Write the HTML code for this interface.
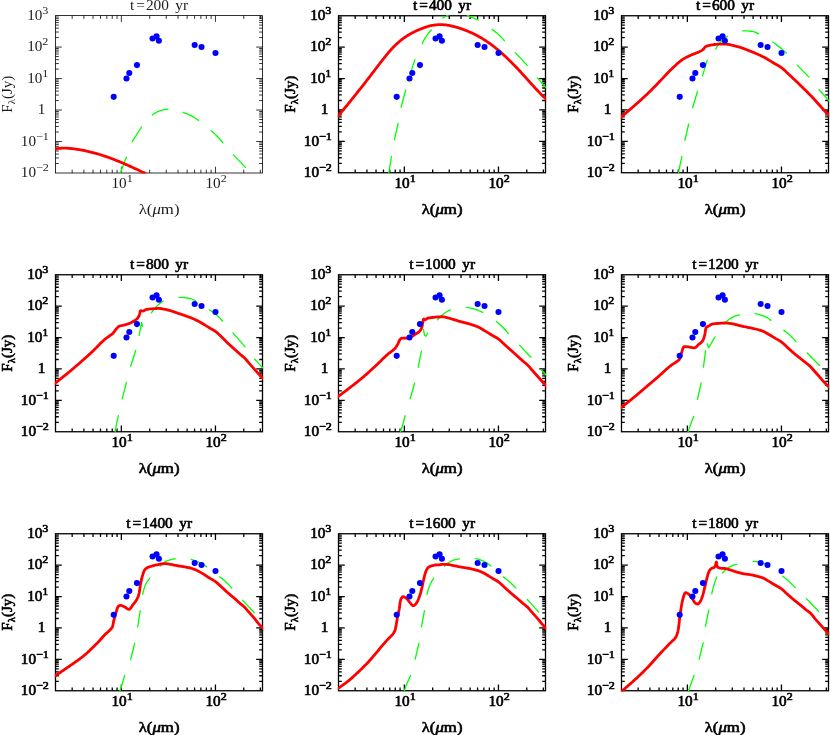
<!DOCTYPE html>
<html><head><meta charset="utf-8"><title>SED evolution</title>
<style>
html,body{margin:0;padding:0;background:#fff;}
body{width:830px;height:735px;overflow:hidden;font-family:"Liberation Sans",sans-serif;}
svg{display:block;will-change:transform;}
</style></head>
<body>
<svg width="830" height="735" viewBox="0 0 830 735">
<rect width="830" height="735" fill="#fff"/>
<g>
<rect x="55.5" y="15.6" width="207" height="157.4" fill="none" stroke="#000" stroke-width="0.8"/>
<path d="M72.17 15.6v3.3M72.17 173v-3.3M83.92 15.6v3.3M83.92 173v-3.3M93.04 15.6v3.3M93.04 173v-3.3M100.49 15.6v3.3M100.49 173v-3.3M106.79 15.6v3.3M106.79 173v-3.3M112.25 15.6v3.3M112.25 173v-3.3M117.06 15.6v3.3M117.06 173v-3.3M121.36 15.6v6.3M121.36 173v-6.3M149.69 15.6v3.3M149.69 173v-3.3M166.26 15.6v3.3M166.26 173v-3.3M178.01 15.6v3.3M178.01 173v-3.3M187.13 15.6v3.3M187.13 173v-3.3M194.58 15.6v3.3M194.58 173v-3.3M200.88 15.6v3.3M200.88 173v-3.3M206.34 15.6v3.3M206.34 173v-3.3M211.15 15.6v3.3M211.15 173v-3.3M215.45 15.6v6.3M215.45 173v-6.3M243.78 15.6v3.3M243.78 173v-3.3M260.35 15.6v3.3M260.35 173v-3.3M55.5 163.52h3.3M262.5 163.52h-3.3M55.5 157.98h3.3M262.5 157.98h-3.3M55.5 154.05h3.3M262.5 154.05h-3.3M55.5 151h3.3M262.5 151h-3.3M55.5 148.5h3.3M262.5 148.5h-3.3M55.5 146.4h3.3M262.5 146.4h-3.3M55.5 144.57h3.3M262.5 144.57h-3.3M55.5 142.96h3.3M262.5 142.96h-3.3M55.5 141.52h6.3M262.5 141.52h-6.3M55.5 132.04h3.3M262.5 132.04h-3.3M55.5 126.5h3.3M262.5 126.5h-3.3M55.5 122.57h3.3M262.5 122.57h-3.3M55.5 119.52h3.3M262.5 119.52h-3.3M55.5 117.02h3.3M262.5 117.02h-3.3M55.5 114.92h3.3M262.5 114.92h-3.3M55.5 113.09h3.3M262.5 113.09h-3.3M55.5 111.48h3.3M262.5 111.48h-3.3M55.5 110.04h6.3M262.5 110.04h-6.3M55.5 100.56h3.3M262.5 100.56h-3.3M55.5 95.02h3.3M262.5 95.02h-3.3M55.5 91.09h3.3M262.5 91.09h-3.3M55.5 88.04h3.3M262.5 88.04h-3.3M55.5 85.54h3.3M262.5 85.54h-3.3M55.5 83.44h3.3M262.5 83.44h-3.3M55.5 81.61h3.3M262.5 81.61h-3.3M55.5 80h3.3M262.5 80h-3.3M55.5 78.56h6.3M262.5 78.56h-6.3M55.5 69.08h3.3M262.5 69.08h-3.3M55.5 63.54h3.3M262.5 63.54h-3.3M55.5 59.61h3.3M262.5 59.61h-3.3M55.5 56.56h3.3M262.5 56.56h-3.3M55.5 54.06h3.3M262.5 54.06h-3.3M55.5 51.96h3.3M262.5 51.96h-3.3M55.5 50.13h3.3M262.5 50.13h-3.3M55.5 48.52h3.3M262.5 48.52h-3.3M55.5 47.08h6.3M262.5 47.08h-6.3M55.5 37.6h3.3M262.5 37.6h-3.3M55.5 32.06h3.3M262.5 32.06h-3.3M55.5 28.13h3.3M262.5 28.13h-3.3M55.5 25.08h3.3M262.5 25.08h-3.3M55.5 22.58h3.3M262.5 22.58h-3.3M55.5 20.48h3.3M262.5 20.48h-3.3M55.5 18.65h3.3M262.5 18.65h-3.3M55.5 17.04h3.3M262.5 17.04h-3.3" fill="none" stroke="#000" stroke-width="0.8"/>
<clipPath id="c0"><rect x="55.1" y="15.2" width="207.8" height="158.2"/></clipPath>
<g clip-path="url(#c0)" fill="none" stroke-linejoin="round">
<path d="M120.16 173.88L120.72 172.2L121.31 170.54L121.9 168.87L122.51 167.21L123.13 165.56L123.76 163.9L124.4 162.25L125.06 160.61L125.73 158.97L126.42 157.34M132.19 141.55L141.46 127.02M152.23 114.99L153.64 113.99L155.08 113.07L156.56 112.24L158.06 111.53L159.6 110.94L161.16 110.47L162.76 110.05L164.4 109.69L166.07 109.4L167.77 109.23M183.31 112.48L184.96 113.06L186.59 113.68L188.18 114.36L189.75 115.08L191.3 115.85L192.81 116.66L194.3 117.53L195.76 118.47L197.19 119.46L198.6 120.5M211.13 130.78L212.42 131.87L213.69 132.98L214.93 134.13L216.15 135.29L217.34 136.48L218.51 137.69L219.65 138.93L220.76 140.2L221.84 141.49L222.9 142.81M233.43 154.84L245.46 167.37" stroke="#00ff00" stroke-width="1.3" stroke-linecap="round"/>
<path d="M53.75 149.28L54.75 149.05L55.75 148.85L56.75 148.68L57.75 148.53L58.75 148.41L59.75 148.31L60.75 148.24L61.75 148.18L62.75 148.15L63.75 148.14L64.75 148.14L65.75 148.17L66.75 148.21L67.75 148.26L68.75 148.33L69.75 148.41L70.75 148.5L71.75 148.61L72.75 148.72L73.75 148.84L74.75 148.97L75.75 149.11L76.75 149.25L77.75 149.41L78.75 149.57L79.75 149.73L80.75 149.91L81.75 150.09L82.75 150.28L83.75 150.47L84.75 150.67L85.75 150.88L86.75 151.1L87.75 151.32L88.75 151.55L89.75 151.79L90.75 152.03L91.75 152.28L92.75 152.54L93.75 152.8L94.75 153.07L95.75 153.35L96.75 153.64L97.75 153.93L98.75 154.22L99.75 154.53L100.75 154.83L101.75 155.15L102.75 155.47L103.75 155.8L104.75 156.14L105.75 156.48L106.75 156.82L107.75 157.18L108.75 157.53L109.75 157.9L110.75 158.27L111.75 158.64L112.75 159.02L113.75 159.41L114.75 159.8L115.75 160.19L116.75 160.59L117.75 161L118.75 161.41L119.75 161.82L120.75 162.24L121.75 162.66L122.75 163.08L123.75 163.51L124.75 163.94L125.75 164.38L126.75 164.82L127.75 165.26L128.75 165.7L129.75 166.15L130.75 166.6L131.75 167.05L132.75 167.51L133.75 167.96L134.75 168.42L135.75 168.88L136.75 169.34L137.75 169.81L138.75 170.27L139.75 170.74L140.75 171.21L141.75 171.68L142.75 172.15L143.75 172.62L144.75 173.09L145.75 173.56" stroke="#ff0000" stroke-width="2.8"/>
</g>
<circle cx="113.7" cy="96.87" r="3.05" fill="#0000ff"/>
<circle cx="126.49" cy="78.5" r="3.05" fill="#0000ff"/>
<circle cx="129.28" cy="72.97" r="3.05" fill="#0000ff"/>
<circle cx="136.95" cy="65.11" r="3.05" fill="#0000ff"/>
<circle cx="152.56" cy="38.49" r="3.05" fill="#0000ff"/>
<circle cx="156.55" cy="36.41" r="3.05" fill="#0000ff"/>
<circle cx="158.91" cy="40.78" r="3.05" fill="#0000ff"/>
<circle cx="194.65" cy="44.96" r="3.05" fill="#0000ff"/>
<circle cx="201.52" cy="46.96" r="3.05" fill="#0000ff"/>
<circle cx="215.5" cy="52.97" r="3.05" fill="#0000ff"/>
<text transform="translate(159.1 9.6) scale(1.13 1)" font-family="'Liberation Serif', serif" font-size="13.6" text-anchor="middle" dx="0 1.8 0.8 0 0 0 2.3 0" fill="#1c1c1c" xml:space="preserve">t=200 yr</text>
<text transform="translate(159.1 213.7) scale(1.2 1)" font-family="'Liberation Serif', serif" font-size="14.0" text-anchor="middle" fill="#1c1c1c" xml:space="preserve">λ(<tspan font-style="italic">μ</tspan>m)</text>
<text transform="translate(11.9 94.2) rotate(-90) scale(1.03 1)" font-family="'Liberation Serif', serif" font-size="14.6" text-anchor="middle" fill="#1c1c1c">F<tspan font-size="10.5" dy="3.2">λ</tspan><tspan dy="-3.2">(Jy)</tspan></text>
<text transform="translate(132.7 188.3) scale(1.12 1)" font-family="'Liberation Serif', serif" font-size="13.6" text-anchor="end" fill="#1c1c1c" xml:space="preserve">10<tspan font-size="10.8" dy="-6.0">1</tspan></text>
<text transform="translate(226.7 188.3) scale(1.12 1)" font-family="'Liberation Serif', serif" font-size="13.6" text-anchor="end" fill="#1c1c1c" xml:space="preserve">10<tspan font-size="10.8" dy="-6.0">2</tspan></text>
<text transform="translate(48.9 177) scale(1.12 1)" font-family="'Liberation Serif', serif" font-size="13.6" text-anchor="end" fill="#1c1c1c" xml:space="preserve">10<tspan font-size="10.8" dy="-6.0">−2</tspan></text>
<text transform="translate(48.9 145.6) scale(1.12 1)" font-family="'Liberation Serif', serif" font-size="13.6" text-anchor="end" fill="#1c1c1c" xml:space="preserve">10<tspan font-size="10.8" dy="-6.0">−1</tspan></text>
<text transform="translate(45.4 114.2) scale(1.12 1)" font-family="'Liberation Serif', serif" font-size="13.6" text-anchor="end" fill="#1c1c1c" xml:space="preserve">1</text>
<text transform="translate(48.4 82.8) scale(1.12 1)" font-family="'Liberation Serif', serif" font-size="13.6" text-anchor="end" fill="#1c1c1c" xml:space="preserve">10<tspan font-size="10.8" dy="-6.0">1</tspan></text>
<text transform="translate(48.4 51.4) scale(1.12 1)" font-family="'Liberation Serif', serif" font-size="13.6" text-anchor="end" fill="#1c1c1c" xml:space="preserve">10<tspan font-size="10.8" dy="-6.0">2</tspan></text>
<text transform="translate(48.4 20) scale(1.12 1)" font-family="'Liberation Serif', serif" font-size="13.6" text-anchor="end" fill="#1c1c1c" xml:space="preserve">10<tspan font-size="10.8" dy="-6.0">3</tspan></text>
</g>
<g>
<rect x="338.5" y="15.75" width="207" height="157" fill="none" stroke="#000" stroke-width="1.3"/>
<path d="M355.17 15.75v3.3M355.17 172.75v-3.3M366.92 15.75v3.3M366.92 172.75v-3.3M376.04 15.75v3.3M376.04 172.75v-3.3M383.49 15.75v3.3M383.49 172.75v-3.3M389.79 15.75v3.3M389.79 172.75v-3.3M395.25 15.75v3.3M395.25 172.75v-3.3M400.06 15.75v3.3M400.06 172.75v-3.3M404.36 15.75v6.3M404.36 172.75v-6.3M432.69 15.75v3.3M432.69 172.75v-3.3M449.26 15.75v3.3M449.26 172.75v-3.3M461.01 15.75v3.3M461.01 172.75v-3.3M470.13 15.75v3.3M470.13 172.75v-3.3M477.58 15.75v3.3M477.58 172.75v-3.3M483.88 15.75v3.3M483.88 172.75v-3.3M489.34 15.75v3.3M489.34 172.75v-3.3M494.15 15.75v3.3M494.15 172.75v-3.3M498.45 15.75v6.3M498.45 172.75v-6.3M526.78 15.75v3.3M526.78 172.75v-3.3M543.35 15.75v3.3M543.35 172.75v-3.3M338.5 163.3h3.3M545.5 163.3h-3.3M338.5 157.77h3.3M545.5 157.77h-3.3M338.5 153.85h3.3M545.5 153.85h-3.3M338.5 150.8h3.3M545.5 150.8h-3.3M338.5 148.32h3.3M545.5 148.32h-3.3M338.5 146.21h3.3M545.5 146.21h-3.3M338.5 144.39h3.3M545.5 144.39h-3.3M338.5 142.79h3.3M545.5 142.79h-3.3M338.5 141.35h6.3M545.5 141.35h-6.3M338.5 131.9h3.3M545.5 131.9h-3.3M338.5 126.37h3.3M545.5 126.37h-3.3M338.5 122.45h3.3M545.5 122.45h-3.3M338.5 119.4h3.3M545.5 119.4h-3.3M338.5 116.92h3.3M545.5 116.92h-3.3M338.5 114.81h3.3M545.5 114.81h-3.3M338.5 112.99h3.3M545.5 112.99h-3.3M338.5 111.39h3.3M545.5 111.39h-3.3M338.5 109.95h6.3M545.5 109.95h-6.3M338.5 100.5h3.3M545.5 100.5h-3.3M338.5 94.97h3.3M545.5 94.97h-3.3M338.5 91.05h3.3M545.5 91.05h-3.3M338.5 88h3.3M545.5 88h-3.3M338.5 85.52h3.3M545.5 85.52h-3.3M338.5 83.41h3.3M545.5 83.41h-3.3M338.5 81.59h3.3M545.5 81.59h-3.3M338.5 79.99h3.3M545.5 79.99h-3.3M338.5 78.55h6.3M545.5 78.55h-6.3M338.5 69.1h3.3M545.5 69.1h-3.3M338.5 63.57h3.3M545.5 63.57h-3.3M338.5 59.65h3.3M545.5 59.65h-3.3M338.5 56.6h3.3M545.5 56.6h-3.3M338.5 54.12h3.3M545.5 54.12h-3.3M338.5 52.01h3.3M545.5 52.01h-3.3M338.5 50.19h3.3M545.5 50.19h-3.3M338.5 48.59h3.3M545.5 48.59h-3.3M338.5 47.15h6.3M545.5 47.15h-6.3M338.5 37.7h3.3M545.5 37.7h-3.3M338.5 32.17h3.3M545.5 32.17h-3.3M338.5 28.25h3.3M545.5 28.25h-3.3M338.5 25.2h3.3M545.5 25.2h-3.3M338.5 22.72h3.3M545.5 22.72h-3.3M338.5 20.61h3.3M545.5 20.61h-3.3M338.5 18.79h3.3M545.5 18.79h-3.3M338.5 17.19h3.3M545.5 17.19h-3.3" fill="none" stroke="#000" stroke-width="1.3"/>
<clipPath id="c1"><rect x="337.85" y="15.1" width="208.3" height="158.3"/></clipPath>
<g clip-path="url(#c1)" fill="none" stroke-linejoin="round">
<path d="M388.62 173.88L388.91 172.15L389.19 170.43L389.47 168.7L389.75 166.97L390.03 165.24L390.3 163.51L390.58 161.78L390.85 160.05L391.11 158.32L391.38 156.59M394.39 139.8L398.14 123.26M401.15 107.22L405.66 90.18M410.17 73.89L414.93 59.61M422.2 43.82L422.88 42.29L423.61 40.79L424.39 39.33L425.21 37.9L426.08 36.51L426.99 35.15L427.97 33.82L429 32.53L430.09 31.26L431.22 30.04M442.75 18.01L444.33 17.11L445.93 16.24L447.53 15.38L449.14 14.55L450.77 13.75M466.31 14.5L467.94 15.47L469.61 16.34L471.31 17.16L473.03 17.95L474.77 18.7L476.54 19.39L478.34 20.01M492.12 29.41L493.48 30.38L494.81 31.39L496.11 32.43L497.37 33.51L498.6 34.62L499.79 35.76L500.96 36.94L502.1 38.15L503.2 39.4L504.27 40.69M515.3 52.59L527.2 65.37M537.23 77.9L538.4 79.16L539.56 80.43L540.71 81.7L541.85 82.97L542.99 84.26L544.13 85.54L545.26 86.83L546.39 88.12L547.5 89.43" stroke="#00ff00" stroke-width="1.3" stroke-linecap="round"/>
<path d="M337 117.02L338 115.88L339 114.73L340 113.58L341 112.41L342 111.24L343 110.07L344 108.88L345 107.69L346 106.5L347 105.3L348 104.09L349 102.87L350 101.65L351 100.43L352 99.2L353 97.96L354 96.72L355 95.48L356 94.23L357 92.97L358 91.71L359 90.45L360 89.18L361 87.91L362 86.63L363 85.35L364 84.07L365 82.78L366 81.49L367 80.19L368 78.9L369 77.6L370 76.29L371 74.99L372 73.68L373 72.37L374 71.06L375 69.74L376 68.43L377 67.11L378 65.8L379 64.49L380 63.18L381 61.88L382 60.59L383 59.31L384 58.05L385 56.8L386 55.56L387 54.34L388 53.15L389 51.97L390 50.82L391 49.7L392 48.6L393 47.54L394 46.51L395 45.51L396 44.54L397 43.61L398 42.71L399 41.85L400 41.01L401 40.2L402 39.42L403 38.67L404 37.95L405 37.25L406 36.58L407 35.93L408 35.3L409 34.7L410 34.11L411 33.55L412 33.01L413 32.49L414 31.98L415 31.49L416 31.02L417 30.56L418 30.11L419 29.68L420 29.26L421 28.86L422 28.47L423 28.09L424 27.73L425 27.39L426 27.06L427 26.75L428 26.46L429 26.19L430 25.94L431 25.7L432 25.49L433 25.3L434 25.14L435 24.99L436 24.87L437 24.78L438 24.7L439 24.66L440 24.64L441 24.64L442 24.66L443 24.71L444 24.78L445 24.87L446 24.98L447 25.11L448 25.26L449 25.43L450 25.61L451 25.81L452 26.03L453 26.27L454 26.52L455 26.78L456 27.06L457 27.35L458 27.66L459 27.97L460 28.3L461 28.64L462 28.98L463 29.34L464 29.71L465 30.09L466 30.48L467 30.88L468 31.3L469 31.72L470 32.16L471 32.6L472 33.06L473 33.54L474 34.02L475 34.52L476 35.03L477 35.56L478 36.1L479 36.65L480 37.22L481 37.8L482 38.39L483 39L484 39.63L485 40.27L486 40.92L487 41.59L488 42.28L489 42.98L490 43.7L491 44.43L492 45.17L493 45.93L494 46.71L495 47.49L496 48.3L497 49.11L498 49.94L499 50.79L500 51.64L501 52.51L502 53.39L503 54.29L504 55.2L505 56.12L506 57.05L507 57.99L508 58.95L509 59.92L510 60.9L511 61.89L512 62.89L513 63.91L514 64.93L515 65.97L516 67.01L517 68.07L518 69.14L519 70.21L520 71.3L521 72.39L522 73.49L523 74.59L524 75.7L525 76.81L526 77.92L527 79.03L528 80.15L529 81.26L530 82.37L531 83.48L532 84.58L533 85.68L534 86.77L535 87.86L536 88.94L537 90L538 91.06L539 92.11L540 93.14L541 94.16L542 95.17L543 96.16L544 97.14L545 98.09L546 99.03L547 99.95L548 100.85" stroke="#ff0000" stroke-width="2.8"/>
</g>
<circle cx="396.7" cy="96.87" r="3.05" fill="#0000ff"/>
<circle cx="409.49" cy="78.5" r="3.05" fill="#0000ff"/>
<circle cx="412.28" cy="72.97" r="3.05" fill="#0000ff"/>
<circle cx="419.95" cy="65.11" r="3.05" fill="#0000ff"/>
<circle cx="435.56" cy="38.49" r="3.05" fill="#0000ff"/>
<circle cx="439.55" cy="36.41" r="3.05" fill="#0000ff"/>
<circle cx="441.91" cy="40.78" r="3.05" fill="#0000ff"/>
<circle cx="477.65" cy="44.96" r="3.05" fill="#0000ff"/>
<circle cx="484.52" cy="46.96" r="3.05" fill="#0000ff"/>
<circle cx="498.5" cy="52.97" r="3.05" fill="#0000ff"/>
<text transform="translate(442.1 9.6) scale(1.13 1)" font-family="'Liberation Serif', serif" font-size="13.6" text-anchor="middle" dx="0 1.8 0.8 0 0 0 2.3 0" fill="#000" stroke="#000" stroke-width="0.6" stroke-linejoin="round" xml:space="preserve">t=400 yr</text>
<text transform="translate(442.1 213.7) scale(1.2 1)" font-family="'Liberation Serif', serif" font-size="14.0" text-anchor="middle" fill="#000" stroke="#000" stroke-width="0.6" stroke-linejoin="round" xml:space="preserve">λ(<tspan font-style="italic">μ</tspan>m)</text>
<text transform="translate(294.9 94.2) rotate(-90) scale(1.03 1)" font-family="'Liberation Serif', serif" font-size="14.6" text-anchor="middle" fill="#000" stroke="#000" stroke-width="0.6" stroke-linejoin="round">F<tspan font-size="10.5" dy="3.2">λ</tspan><tspan dy="-3.2">(Jy)</tspan></text>
<text transform="translate(415.7 188.3) scale(1.12 1)" font-family="'Liberation Serif', serif" font-size="13.6" text-anchor="end" fill="#000" stroke="#000" stroke-width="0.6" stroke-linejoin="round" xml:space="preserve">10<tspan font-size="10.8" dy="-6.0">1</tspan></text>
<text transform="translate(509.7 188.3) scale(1.12 1)" font-family="'Liberation Serif', serif" font-size="13.6" text-anchor="end" fill="#000" stroke="#000" stroke-width="0.6" stroke-linejoin="round" xml:space="preserve">10<tspan font-size="10.8" dy="-6.0">2</tspan></text>
<text transform="translate(331.9 177) scale(1.12 1)" font-family="'Liberation Serif', serif" font-size="13.6" text-anchor="end" fill="#000" stroke="#000" stroke-width="0.6" stroke-linejoin="round" xml:space="preserve">10<tspan font-size="10.8" dy="-6.0">−2</tspan></text>
<text transform="translate(331.9 145.6) scale(1.12 1)" font-family="'Liberation Serif', serif" font-size="13.6" text-anchor="end" fill="#000" stroke="#000" stroke-width="0.6" stroke-linejoin="round" xml:space="preserve">10<tspan font-size="10.8" dy="-6.0">−1</tspan></text>
<text transform="translate(328.4 114.2) scale(1.12 1)" font-family="'Liberation Serif', serif" font-size="13.6" text-anchor="end" fill="#000" stroke="#000" stroke-width="0.6" stroke-linejoin="round" xml:space="preserve">1</text>
<text transform="translate(331.4 82.8) scale(1.12 1)" font-family="'Liberation Serif', serif" font-size="13.6" text-anchor="end" fill="#000" stroke="#000" stroke-width="0.6" stroke-linejoin="round" xml:space="preserve">10<tspan font-size="10.8" dy="-6.0">1</tspan></text>
<text transform="translate(331.4 51.4) scale(1.12 1)" font-family="'Liberation Serif', serif" font-size="13.6" text-anchor="end" fill="#000" stroke="#000" stroke-width="0.6" stroke-linejoin="round" xml:space="preserve">10<tspan font-size="10.8" dy="-6.0">2</tspan></text>
<text transform="translate(331.4 20) scale(1.12 1)" font-family="'Liberation Serif', serif" font-size="13.6" text-anchor="end" fill="#000" stroke="#000" stroke-width="0.6" stroke-linejoin="round" xml:space="preserve">10<tspan font-size="10.8" dy="-6.0">3</tspan></text>
</g>
<g>
<rect x="621.5" y="15.75" width="207" height="157" fill="none" stroke="#000" stroke-width="1.3"/>
<path d="M638.17 15.75v3.3M638.17 172.75v-3.3M649.92 15.75v3.3M649.92 172.75v-3.3M659.04 15.75v3.3M659.04 172.75v-3.3M666.49 15.75v3.3M666.49 172.75v-3.3M672.79 15.75v3.3M672.79 172.75v-3.3M678.25 15.75v3.3M678.25 172.75v-3.3M683.06 15.75v3.3M683.06 172.75v-3.3M687.36 15.75v6.3M687.36 172.75v-6.3M715.69 15.75v3.3M715.69 172.75v-3.3M732.26 15.75v3.3M732.26 172.75v-3.3M744.01 15.75v3.3M744.01 172.75v-3.3M753.13 15.75v3.3M753.13 172.75v-3.3M760.58 15.75v3.3M760.58 172.75v-3.3M766.88 15.75v3.3M766.88 172.75v-3.3M772.34 15.75v3.3M772.34 172.75v-3.3M777.15 15.75v3.3M777.15 172.75v-3.3M781.45 15.75v6.3M781.45 172.75v-6.3M809.78 15.75v3.3M809.78 172.75v-3.3M826.35 15.75v3.3M826.35 172.75v-3.3M621.5 163.3h3.3M828.5 163.3h-3.3M621.5 157.77h3.3M828.5 157.77h-3.3M621.5 153.85h3.3M828.5 153.85h-3.3M621.5 150.8h3.3M828.5 150.8h-3.3M621.5 148.32h3.3M828.5 148.32h-3.3M621.5 146.21h3.3M828.5 146.21h-3.3M621.5 144.39h3.3M828.5 144.39h-3.3M621.5 142.79h3.3M828.5 142.79h-3.3M621.5 141.35h6.3M828.5 141.35h-6.3M621.5 131.9h3.3M828.5 131.9h-3.3M621.5 126.37h3.3M828.5 126.37h-3.3M621.5 122.45h3.3M828.5 122.45h-3.3M621.5 119.4h3.3M828.5 119.4h-3.3M621.5 116.92h3.3M828.5 116.92h-3.3M621.5 114.81h3.3M828.5 114.81h-3.3M621.5 112.99h3.3M828.5 112.99h-3.3M621.5 111.39h3.3M828.5 111.39h-3.3M621.5 109.95h6.3M828.5 109.95h-6.3M621.5 100.5h3.3M828.5 100.5h-3.3M621.5 94.97h3.3M828.5 94.97h-3.3M621.5 91.05h3.3M828.5 91.05h-3.3M621.5 88h3.3M828.5 88h-3.3M621.5 85.52h3.3M828.5 85.52h-3.3M621.5 83.41h3.3M828.5 83.41h-3.3M621.5 81.59h3.3M828.5 81.59h-3.3M621.5 79.99h3.3M828.5 79.99h-3.3M621.5 78.55h6.3M828.5 78.55h-6.3M621.5 69.1h3.3M828.5 69.1h-3.3M621.5 63.57h3.3M828.5 63.57h-3.3M621.5 59.65h3.3M828.5 59.65h-3.3M621.5 56.6h3.3M828.5 56.6h-3.3M621.5 54.12h3.3M828.5 54.12h-3.3M621.5 52.01h3.3M828.5 52.01h-3.3M621.5 50.19h3.3M828.5 50.19h-3.3M621.5 48.59h3.3M828.5 48.59h-3.3M621.5 47.15h6.3M828.5 47.15h-6.3M621.5 37.7h3.3M828.5 37.7h-3.3M621.5 32.17h3.3M828.5 32.17h-3.3M621.5 28.25h3.3M828.5 28.25h-3.3M621.5 25.2h3.3M828.5 25.2h-3.3M621.5 22.72h3.3M828.5 22.72h-3.3M621.5 20.61h3.3M828.5 20.61h-3.3M621.5 18.79h3.3M828.5 18.79h-3.3M621.5 17.19h3.3M828.5 17.19h-3.3" fill="none" stroke="#000" stroke-width="1.3"/>
<clipPath id="c2"><rect x="620.85" y="15.1" width="208.3" height="158.3"/></clipPath>
<g clip-path="url(#c2)" fill="none" stroke-linejoin="round">
<path d="M678.39 173.88L678.68 172.14L679 170.41L679.32 168.67L679.65 166.94L679.99 165.21L680.35 163.48L680.71 161.75L681.09 160.03L681.49 158.31L681.9 156.59M684.9 140.3L688.66 124.01M692.67 107.72L697.43 91.43M702.45 75.9L707.21 60.11M715.73 48.83L716.61 47.29L717.57 45.82L718.59 44.4L719.67 43.05L720.81 41.77L721.99 40.56L723.26 39.41L724.61 38.31L726.03 37.27L727.51 36.3M742.54 30.79L744.25 30.81L745.93 30.87L747.6 30.97L749.26 31.1L750.89 31.25L752.52 31.47L754.12 31.87L755.71 32.42L757.28 33.08L758.83 33.8M772.61 42.07L774.08 43.06L775.53 44.08L776.96 45.12L778.36 46.19L779.75 47.27L781.12 48.38L782.47 49.52L783.8 50.69L785.11 51.88L786.4 53.09M797.17 65.12L808.95 77.15M818.98 89.68L820.15 90.96L821.32 92.25L822.48 93.55L823.64 94.85L824.79 96.15L825.94 97.46L827.09 98.76L828.23 100.07L829.37 101.39L830.5 102.71" stroke="#00ff00" stroke-width="1.3" stroke-linecap="round"/>
<path d="M619.75 118.07L620.54 117.45L621.32 116.81L622.1 116.17L622.87 115.53L623.65 114.89L624.42 114.24L625.19 113.59L625.96 112.94L626.73 112.29L627.5 111.64L628.26 110.98L629.03 110.33L629.79 109.67L630.56 109.01L631.32 108.35L632.08 107.69L632.84 107.03L633.6 106.36L634.35 105.7L635.11 105.04L635.87 104.37L636.63 103.71L637.38 103.04L638.14 102.37L638.89 101.7L639.64 101.03L640.39 100.36L641.14 99.69L641.89 99.01L642.64 98.33L643.38 97.65L644.12 96.97L644.85 96.28L645.59 95.59L646.32 94.9L647.05 94.2L647.77 93.5L648.5 92.8L649.21 92.1L649.93 91.39L650.65 90.68L651.36 89.97L652.07 89.25L652.78 88.54L653.49 87.82L654.2 87.1L654.91 86.39L655.61 85.67L656.32 84.94L657.02 84.22L657.72 83.5L658.43 82.78L659.13 82.06L659.83 81.33L660.52 80.6L661.21 79.86L661.89 79.12L662.58 78.38L663.26 77.63L663.94 76.89L664.63 76.15L665.31 75.4L666 74.67L666.69 73.93L667.38 73.2L668.08 72.47L668.78 71.75L669.49 71.04L670.21 70.33L670.93 69.64L671.66 68.95L672.39 68.25L673.12 67.55L673.86 66.85L674.6 66.15L675.34 65.46L676.09 64.77L676.85 64.08L677.61 63.41L678.38 62.74L679.15 62.09L679.93 61.46L680.73 60.84L681.53 60.24L682.34 59.67L683.16 59.12L684 58.59L684.86 58.09L685.74 57.62L686.64 57.17L687.56 56.72L688.48 56.29L689.4 55.87L690.32 55.44L691.24 55.02L692.16 54.6L693.1 54.21L694.06 53.83L695.02 53.46L695.98 53.1L696.94 52.73L697.89 52.35L698.83 51.96L699.74 51.55L700.63 51.11L701.49 50.64L702.31 50.13L703.07 49.51L703.76 48.73L704.43 47.88L705.11 47.09L705.84 46.47L706.67 46.09L707.6 45.78L708.59 45.52L709.62 45.31L710.64 45.12L711.63 44.96L712.63 44.8L713.63 44.65L714.63 44.51L715.63 44.39L716.63 44.28L717.64 44.2L718.64 44.15L719.65 44.12L720.66 44.09L721.67 44.06L722.68 44.04L723.69 44.03L724.69 44.02L725.69 44.04L726.69 44.14L727.69 44.3L728.68 44.49L729.67 44.71L730.66 44.93L731.65 45.12L732.64 45.33L733.62 45.55L734.6 45.78L735.58 46.03L736.56 46.28L737.53 46.55L738.49 46.83L739.45 47.13L740.41 47.44L741.36 47.76L742.32 48.09L743.27 48.43L744.21 48.78L745.16 49.14L746.1 49.5L747.04 49.87L747.98 50.24L748.92 50.61L749.85 50.98L750.79 51.35L751.72 51.73L752.66 52.11L753.59 52.49L754.52 52.88L755.45 53.28L756.38 53.68L757.3 54.09L758.22 54.5L759.14 54.92L760.05 55.34L760.96 55.78L761.86 56.22L762.76 56.66L763.66 57.12L764.54 57.59L765.42 58.08L766.3 58.57L767.17 59.07L768.04 59.58L768.91 60.1L769.78 60.62L770.64 61.14L771.5 61.67L772.37 62.19L773.23 62.71L774.1 63.23L774.96 63.75L775.83 64.26L776.71 64.76L777.6 65.25L778.48 65.75L779.35 66.27L780.2 66.8L781.03 67.35L781.84 67.94L782.62 68.56L783.38 69.22L784.13 69.89L784.87 70.59L785.6 71.29L786.33 71.99L787.06 72.69L787.8 73.38L788.54 74.06L789.28 74.75L790.01 75.43L790.75 76.12L791.48 76.81L792.22 77.5L792.95 78.19L793.68 78.89L794.41 79.58L795.14 80.28L795.87 80.98L796.6 81.67L797.32 82.37L798.05 83.07L798.77 83.77L799.49 84.48L800.21 85.18L800.94 85.88L801.66 86.58L802.38 87.29L803.1 87.99L803.82 88.7L804.54 89.41L805.25 90.11L805.97 90.82L806.69 91.53L807.4 92.25L808.11 92.96L808.82 93.68L809.53 94.39L810.23 95.11L810.94 95.83L811.64 96.56L812.34 97.28L813.03 98.01L813.72 98.74L814.4 99.48L815.08 100.23L815.76 100.97L816.44 101.72L817.11 102.47L817.78 103.23L818.45 103.98L819.11 104.74L819.78 105.49L820.45 106.24L821.12 107L821.8 107.75L822.47 108.49L823.15 109.24L823.84 109.98L824.53 110.71L825.22 111.44L825.93 112.16L826.64 112.87L827.36 113.57L828.08 114.28L828.79 115L829.48 115.73L830.16 116.47L830.84 117.22L831.51 117.97" stroke="#ff0000" stroke-width="2.8"/>
</g>
<circle cx="679.7" cy="96.87" r="3.05" fill="#0000ff"/>
<circle cx="692.49" cy="78.5" r="3.05" fill="#0000ff"/>
<circle cx="695.28" cy="72.97" r="3.05" fill="#0000ff"/>
<circle cx="702.95" cy="65.11" r="3.05" fill="#0000ff"/>
<circle cx="718.56" cy="38.49" r="3.05" fill="#0000ff"/>
<circle cx="722.55" cy="36.41" r="3.05" fill="#0000ff"/>
<circle cx="724.91" cy="40.78" r="3.05" fill="#0000ff"/>
<circle cx="760.65" cy="44.96" r="3.05" fill="#0000ff"/>
<circle cx="767.52" cy="46.96" r="3.05" fill="#0000ff"/>
<circle cx="781.5" cy="52.97" r="3.05" fill="#0000ff"/>
<text transform="translate(725.1 9.6) scale(1.13 1)" font-family="'Liberation Serif', serif" font-size="13.6" text-anchor="middle" dx="0 1.8 0.8 0 0 0 2.3 0" fill="#000" stroke="#000" stroke-width="0.6" stroke-linejoin="round" xml:space="preserve">t=600 yr</text>
<text transform="translate(725.1 213.7) scale(1.2 1)" font-family="'Liberation Serif', serif" font-size="14.0" text-anchor="middle" fill="#000" stroke="#000" stroke-width="0.6" stroke-linejoin="round" xml:space="preserve">λ(<tspan font-style="italic">μ</tspan>m)</text>
<text transform="translate(577.9 94.2) rotate(-90) scale(1.03 1)" font-family="'Liberation Serif', serif" font-size="14.6" text-anchor="middle" fill="#000" stroke="#000" stroke-width="0.6" stroke-linejoin="round">F<tspan font-size="10.5" dy="3.2">λ</tspan><tspan dy="-3.2">(Jy)</tspan></text>
<text transform="translate(698.7 188.3) scale(1.12 1)" font-family="'Liberation Serif', serif" font-size="13.6" text-anchor="end" fill="#000" stroke="#000" stroke-width="0.6" stroke-linejoin="round" xml:space="preserve">10<tspan font-size="10.8" dy="-6.0">1</tspan></text>
<text transform="translate(792.7 188.3) scale(1.12 1)" font-family="'Liberation Serif', serif" font-size="13.6" text-anchor="end" fill="#000" stroke="#000" stroke-width="0.6" stroke-linejoin="round" xml:space="preserve">10<tspan font-size="10.8" dy="-6.0">2</tspan></text>
<text transform="translate(614.9 177) scale(1.12 1)" font-family="'Liberation Serif', serif" font-size="13.6" text-anchor="end" fill="#000" stroke="#000" stroke-width="0.6" stroke-linejoin="round" xml:space="preserve">10<tspan font-size="10.8" dy="-6.0">−2</tspan></text>
<text transform="translate(614.9 145.6) scale(1.12 1)" font-family="'Liberation Serif', serif" font-size="13.6" text-anchor="end" fill="#000" stroke="#000" stroke-width="0.6" stroke-linejoin="round" xml:space="preserve">10<tspan font-size="10.8" dy="-6.0">−1</tspan></text>
<text transform="translate(611.4 114.2) scale(1.12 1)" font-family="'Liberation Serif', serif" font-size="13.6" text-anchor="end" fill="#000" stroke="#000" stroke-width="0.6" stroke-linejoin="round" xml:space="preserve">1</text>
<text transform="translate(614.4 82.8) scale(1.12 1)" font-family="'Liberation Serif', serif" font-size="13.6" text-anchor="end" fill="#000" stroke="#000" stroke-width="0.6" stroke-linejoin="round" xml:space="preserve">10<tspan font-size="10.8" dy="-6.0">1</tspan></text>
<text transform="translate(614.4 51.4) scale(1.12 1)" font-family="'Liberation Serif', serif" font-size="13.6" text-anchor="end" fill="#000" stroke="#000" stroke-width="0.6" stroke-linejoin="round" xml:space="preserve">10<tspan font-size="10.8" dy="-6.0">2</tspan></text>
<text transform="translate(614.4 20) scale(1.12 1)" font-family="'Liberation Serif', serif" font-size="13.6" text-anchor="end" fill="#000" stroke="#000" stroke-width="0.6" stroke-linejoin="round" xml:space="preserve">10<tspan font-size="10.8" dy="-6.0">3</tspan></text>
</g>
<g>
<rect x="55.5" y="274.75" width="207" height="157" fill="none" stroke="#000" stroke-width="1.3"/>
<path d="M72.17 274.75v3.3M72.17 431.75v-3.3M83.92 274.75v3.3M83.92 431.75v-3.3M93.04 274.75v3.3M93.04 431.75v-3.3M100.49 274.75v3.3M100.49 431.75v-3.3M106.79 274.75v3.3M106.79 431.75v-3.3M112.25 274.75v3.3M112.25 431.75v-3.3M117.06 274.75v3.3M117.06 431.75v-3.3M121.36 274.75v6.3M121.36 431.75v-6.3M149.69 274.75v3.3M149.69 431.75v-3.3M166.26 274.75v3.3M166.26 431.75v-3.3M178.01 274.75v3.3M178.01 431.75v-3.3M187.13 274.75v3.3M187.13 431.75v-3.3M194.58 274.75v3.3M194.58 431.75v-3.3M200.88 274.75v3.3M200.88 431.75v-3.3M206.34 274.75v3.3M206.34 431.75v-3.3M211.15 274.75v3.3M211.15 431.75v-3.3M215.45 274.75v6.3M215.45 431.75v-6.3M243.78 274.75v3.3M243.78 431.75v-3.3M260.35 274.75v3.3M260.35 431.75v-3.3M55.5 422.3h3.3M262.5 422.3h-3.3M55.5 416.77h3.3M262.5 416.77h-3.3M55.5 412.85h3.3M262.5 412.85h-3.3M55.5 409.8h3.3M262.5 409.8h-3.3M55.5 407.32h3.3M262.5 407.32h-3.3M55.5 405.21h3.3M262.5 405.21h-3.3M55.5 403.39h3.3M262.5 403.39h-3.3M55.5 401.79h3.3M262.5 401.79h-3.3M55.5 400.35h6.3M262.5 400.35h-6.3M55.5 390.9h3.3M262.5 390.9h-3.3M55.5 385.37h3.3M262.5 385.37h-3.3M55.5 381.45h3.3M262.5 381.45h-3.3M55.5 378.4h3.3M262.5 378.4h-3.3M55.5 375.92h3.3M262.5 375.92h-3.3M55.5 373.81h3.3M262.5 373.81h-3.3M55.5 371.99h3.3M262.5 371.99h-3.3M55.5 370.39h3.3M262.5 370.39h-3.3M55.5 368.95h6.3M262.5 368.95h-6.3M55.5 359.5h3.3M262.5 359.5h-3.3M55.5 353.97h3.3M262.5 353.97h-3.3M55.5 350.05h3.3M262.5 350.05h-3.3M55.5 347h3.3M262.5 347h-3.3M55.5 344.52h3.3M262.5 344.52h-3.3M55.5 342.41h3.3M262.5 342.41h-3.3M55.5 340.59h3.3M262.5 340.59h-3.3M55.5 338.99h3.3M262.5 338.99h-3.3M55.5 337.55h6.3M262.5 337.55h-6.3M55.5 328.1h3.3M262.5 328.1h-3.3M55.5 322.57h3.3M262.5 322.57h-3.3M55.5 318.65h3.3M262.5 318.65h-3.3M55.5 315.6h3.3M262.5 315.6h-3.3M55.5 313.12h3.3M262.5 313.12h-3.3M55.5 311.01h3.3M262.5 311.01h-3.3M55.5 309.19h3.3M262.5 309.19h-3.3M55.5 307.59h3.3M262.5 307.59h-3.3M55.5 306.15h6.3M262.5 306.15h-6.3M55.5 296.7h3.3M262.5 296.7h-3.3M55.5 291.17h3.3M262.5 291.17h-3.3M55.5 287.25h3.3M262.5 287.25h-3.3M55.5 284.2h3.3M262.5 284.2h-3.3M55.5 281.72h3.3M262.5 281.72h-3.3M55.5 279.61h3.3M262.5 279.61h-3.3M55.5 277.79h3.3M262.5 277.79h-3.3M55.5 276.19h3.3M262.5 276.19h-3.3" fill="none" stroke="#000" stroke-width="1.3"/>
<clipPath id="c3"><rect x="54.85" y="274.1" width="208.3" height="158.3"/></clipPath>
<g clip-path="url(#c3)" fill="none" stroke-linejoin="round">
<path d="M114.89 432.88L115.19 431.14L115.5 429.41L115.83 427.67L116.16 425.94L116.5 424.21L116.85 422.48L117.22 420.75L117.6 419.03L117.99 417.31L118.4 415.59M122.16 398.8L126.42 382.51M130.68 366.22L135.69 350.43M139.2 335.4L141.46 322.49L142.46 326.38M151.48 312.84L152.43 311.44L153.44 310.08L154.49 308.77L155.59 307.52L156.74 306.33L157.94 305.19L159.19 304.09L160.5 303.03L161.85 302.02L163.26 301.07M179.05 297.31L180.75 297.34L182.43 297.44L184.1 297.59L185.75 297.78L187.39 298L189.01 298.27L190.62 298.69L192.21 299.24L193.78 299.87L195.34 300.56M209.37 309.84L210.89 310.71L212.37 311.64L213.8 312.62L215.16 313.66L216.47 314.76L217.74 315.92L218.98 317.13L220.17 318.4L221.31 319.73L222.4 321.11M232.93 332.89L244.96 346.67M254.73 359.2L255.92 360.52L257.12 361.82L258.33 363.12L259.55 364.41L260.78 365.69L262.01 366.96L263.25 368.23L264.5 369.48" stroke="#00ff00" stroke-width="1.3" stroke-linecap="round"/>
<path d="M53.75 384.33L54.53 383.7L55.32 383.07L56.1 382.45L56.89 381.82L57.67 381.2L58.46 380.57L59.25 379.95L60.04 379.33L60.82 378.7L61.61 378.08L62.4 377.45L63.18 376.83L63.96 376.2L64.75 375.57L65.53 374.94L66.31 374.3L67.08 373.67L67.86 373.03L68.63 372.39L69.41 371.75L70.18 371.1L70.95 370.46L71.72 369.81L72.48 369.17L73.25 368.52L74.02 367.87L74.78 367.21L75.54 366.56L76.31 365.91L77.07 365.25L77.83 364.59L78.59 363.94L79.34 363.28L80.1 362.62L80.86 361.95L81.61 361.29L82.36 360.63L83.12 359.96L83.87 359.3L84.62 358.63L85.37 357.96L86.12 357.29L86.87 356.62L87.62 355.95L88.36 355.28L89.1 354.6L89.84 353.92L90.58 353.24L91.32 352.56L92.05 351.88L92.79 351.19L93.51 350.49L94.23 349.79L94.94 349.08L95.65 348.36L96.35 347.63L97.05 346.91L97.75 346.18L98.45 345.45L99.15 344.73L99.85 344.01L100.56 343.3L101.27 342.59L101.99 341.89L102.72 341.2L103.46 340.53L104.21 339.87L104.97 339.22L105.75 338.6L106.55 338L107.37 337.41L108.19 336.83L109.01 336.24L109.84 335.67L110.68 335.1L111.51 334.52L112.29 333.9L113 333.22L113.64 332.47L114.25 331.67L114.84 330.84L115.44 330.01L116.06 329.22L116.72 328.45L117.39 327.63L118.09 326.88L118.86 326.33L119.73 326L120.69 325.75L121.7 325.54L122.72 325.34L123.73 325.11L124.7 324.85L125.67 324.58L126.64 324.31L127.6 324.02L128.55 323.7L129.48 323.34L130.4 322.94L131.32 322.51L132.22 322.04L133.1 321.55L133.95 321.04L134.82 320.51L135.69 319.94L136.52 319.33L137.26 318.66L137.87 317.94L138.39 317.11L138.86 316.2L139.27 315.25L139.62 314.3L139.87 313.13L140.06 311.86L140.31 310.91L140.72 310.66L141.7 310.88L142.8 311.02L143.73 310.78L144.64 310.27L145.54 309.73L146.48 309.4L147.45 309.25L148.44 309.12L149.44 309.02L150.45 308.94L151.47 308.86L152.48 308.79L153.48 308.71L154.48 308.63L155.49 308.55L156.49 308.48L157.49 308.43L158.49 308.4L159.49 308.41L160.49 308.49L161.48 308.63L162.47 308.82L163.46 309.03L164.45 309.25L165.43 309.46L166.41 309.67L167.39 309.9L168.36 310.15L169.33 310.42L170.3 310.69L171.27 310.97L172.23 311.26L173.18 311.57L174.13 311.89L175.08 312.23L176.03 312.56L176.98 312.9L177.93 313.23L178.88 313.55L179.83 313.87L180.78 314.19L181.73 314.51L182.68 314.83L183.63 315.16L184.58 315.49L185.53 315.82L186.48 316.15L187.43 316.49L188.37 316.83L189.31 317.18L190.25 317.54L191.18 317.91L192.11 318.29L193.04 318.69L193.96 319.09L194.87 319.5L195.78 319.93L196.68 320.37L197.58 320.83L198.46 321.3L199.34 321.79L200.21 322.29L201.08 322.79L201.95 323.3L202.82 323.81L203.68 324.32L204.55 324.83L205.41 325.34L206.27 325.86L207.13 326.38L207.99 326.91L208.85 327.43L209.71 327.94L210.59 328.44L211.47 328.93L212.35 329.43L213.22 329.94L214.07 330.46L214.9 331.01L215.71 331.59L216.49 332.2L217.26 332.85L218.01 333.52L218.75 334.2L219.48 334.9L220.21 335.6L220.93 336.3L221.66 337L222.38 337.69L223.1 338.4L223.8 339.12L224.5 339.83L225.21 340.55L225.91 341.27L226.62 341.99L227.33 342.69L228.06 343.39L228.79 344.07L229.53 344.75L230.28 345.42L231.03 346.09L231.78 346.76L232.53 347.42L233.28 348.09L234.03 348.76L234.78 349.43L235.52 350.11L236.26 350.78L237.01 351.46L237.75 352.14L238.49 352.81L239.24 353.48L240 354.14L240.76 354.8L241.54 355.43L242.33 356.06L243.11 356.69L243.87 357.35L244.59 358.04L245.28 358.76L245.96 359.5L246.62 360.26L247.27 361.02L247.92 361.79L248.57 362.56L249.23 363.32L249.9 364.07L250.57 364.82L251.24 365.57L251.9 366.32L252.57 367.07L253.24 367.82L253.9 368.57L254.57 369.33L255.23 370.08L255.89 370.84L256.55 371.6L257.22 372.35L257.88 373.1L258.56 373.85L259.24 374.58L259.94 375.3L260.66 376.01L261.38 376.71L262.09 377.41L262.8 378.13L263.49 378.86L264.17 379.59L264.84 380.34L265.51 381.09" stroke="#ff0000" stroke-width="2.8"/>
</g>
<circle cx="113.7" cy="355.87" r="3.05" fill="#0000ff"/>
<circle cx="126.49" cy="337.5" r="3.05" fill="#0000ff"/>
<circle cx="129.28" cy="331.97" r="3.05" fill="#0000ff"/>
<circle cx="136.95" cy="324.11" r="3.05" fill="#0000ff"/>
<circle cx="152.56" cy="297.49" r="3.05" fill="#0000ff"/>
<circle cx="156.55" cy="295.41" r="3.05" fill="#0000ff"/>
<circle cx="158.91" cy="299.78" r="3.05" fill="#0000ff"/>
<circle cx="194.65" cy="303.96" r="3.05" fill="#0000ff"/>
<circle cx="201.52" cy="305.96" r="3.05" fill="#0000ff"/>
<circle cx="215.5" cy="311.97" r="3.05" fill="#0000ff"/>
<text transform="translate(159.1 268.6) scale(1.13 1)" font-family="'Liberation Serif', serif" font-size="13.6" text-anchor="middle" dx="0 1.8 0.8 0 0 0 2.3 0" fill="#000" stroke="#000" stroke-width="0.6" stroke-linejoin="round" xml:space="preserve">t=800 yr</text>
<text transform="translate(159.1 472.7) scale(1.2 1)" font-family="'Liberation Serif', serif" font-size="14.0" text-anchor="middle" fill="#000" stroke="#000" stroke-width="0.6" stroke-linejoin="round" xml:space="preserve">λ(<tspan font-style="italic">μ</tspan>m)</text>
<text transform="translate(11.9 353.2) rotate(-90) scale(1.03 1)" font-family="'Liberation Serif', serif" font-size="14.6" text-anchor="middle" fill="#000" stroke="#000" stroke-width="0.6" stroke-linejoin="round">F<tspan font-size="10.5" dy="3.2">λ</tspan><tspan dy="-3.2">(Jy)</tspan></text>
<text transform="translate(132.7 447.3) scale(1.12 1)" font-family="'Liberation Serif', serif" font-size="13.6" text-anchor="end" fill="#000" stroke="#000" stroke-width="0.6" stroke-linejoin="round" xml:space="preserve">10<tspan font-size="10.8" dy="-6.0">1</tspan></text>
<text transform="translate(226.7 447.3) scale(1.12 1)" font-family="'Liberation Serif', serif" font-size="13.6" text-anchor="end" fill="#000" stroke="#000" stroke-width="0.6" stroke-linejoin="round" xml:space="preserve">10<tspan font-size="10.8" dy="-6.0">2</tspan></text>
<text transform="translate(48.9 436) scale(1.12 1)" font-family="'Liberation Serif', serif" font-size="13.6" text-anchor="end" fill="#000" stroke="#000" stroke-width="0.6" stroke-linejoin="round" xml:space="preserve">10<tspan font-size="10.8" dy="-6.0">−2</tspan></text>
<text transform="translate(48.9 404.6) scale(1.12 1)" font-family="'Liberation Serif', serif" font-size="13.6" text-anchor="end" fill="#000" stroke="#000" stroke-width="0.6" stroke-linejoin="round" xml:space="preserve">10<tspan font-size="10.8" dy="-6.0">−1</tspan></text>
<text transform="translate(45.4 373.2) scale(1.12 1)" font-family="'Liberation Serif', serif" font-size="13.6" text-anchor="end" fill="#000" stroke="#000" stroke-width="0.6" stroke-linejoin="round" xml:space="preserve">1</text>
<text transform="translate(48.4 341.8) scale(1.12 1)" font-family="'Liberation Serif', serif" font-size="13.6" text-anchor="end" fill="#000" stroke="#000" stroke-width="0.6" stroke-linejoin="round" xml:space="preserve">10<tspan font-size="10.8" dy="-6.0">1</tspan></text>
<text transform="translate(48.4 310.4) scale(1.12 1)" font-family="'Liberation Serif', serif" font-size="13.6" text-anchor="end" fill="#000" stroke="#000" stroke-width="0.6" stroke-linejoin="round" xml:space="preserve">10<tspan font-size="10.8" dy="-6.0">2</tspan></text>
<text transform="translate(48.4 279) scale(1.12 1)" font-family="'Liberation Serif', serif" font-size="13.6" text-anchor="end" fill="#000" stroke="#000" stroke-width="0.6" stroke-linejoin="round" xml:space="preserve">10<tspan font-size="10.8" dy="-6.0">3</tspan></text>
</g>
<g>
<rect x="338.5" y="274.75" width="207" height="157" fill="none" stroke="#000" stroke-width="1.3"/>
<path d="M355.17 274.75v3.3M355.17 431.75v-3.3M366.92 274.75v3.3M366.92 431.75v-3.3M376.04 274.75v3.3M376.04 431.75v-3.3M383.49 274.75v3.3M383.49 431.75v-3.3M389.79 274.75v3.3M389.79 431.75v-3.3M395.25 274.75v3.3M395.25 431.75v-3.3M400.06 274.75v3.3M400.06 431.75v-3.3M404.36 274.75v6.3M404.36 431.75v-6.3M432.69 274.75v3.3M432.69 431.75v-3.3M449.26 274.75v3.3M449.26 431.75v-3.3M461.01 274.75v3.3M461.01 431.75v-3.3M470.13 274.75v3.3M470.13 431.75v-3.3M477.58 274.75v3.3M477.58 431.75v-3.3M483.88 274.75v3.3M483.88 431.75v-3.3M489.34 274.75v3.3M489.34 431.75v-3.3M494.15 274.75v3.3M494.15 431.75v-3.3M498.45 274.75v6.3M498.45 431.75v-6.3M526.78 274.75v3.3M526.78 431.75v-3.3M543.35 274.75v3.3M543.35 431.75v-3.3M338.5 422.3h3.3M545.5 422.3h-3.3M338.5 416.77h3.3M545.5 416.77h-3.3M338.5 412.85h3.3M545.5 412.85h-3.3M338.5 409.8h3.3M545.5 409.8h-3.3M338.5 407.32h3.3M545.5 407.32h-3.3M338.5 405.21h3.3M545.5 405.21h-3.3M338.5 403.39h3.3M545.5 403.39h-3.3M338.5 401.79h3.3M545.5 401.79h-3.3M338.5 400.35h6.3M545.5 400.35h-6.3M338.5 390.9h3.3M545.5 390.9h-3.3M338.5 385.37h3.3M545.5 385.37h-3.3M338.5 381.45h3.3M545.5 381.45h-3.3M338.5 378.4h3.3M545.5 378.4h-3.3M338.5 375.92h3.3M545.5 375.92h-3.3M338.5 373.81h3.3M545.5 373.81h-3.3M338.5 371.99h3.3M545.5 371.99h-3.3M338.5 370.39h3.3M545.5 370.39h-3.3M338.5 368.95h6.3M545.5 368.95h-6.3M338.5 359.5h3.3M545.5 359.5h-3.3M338.5 353.97h3.3M545.5 353.97h-3.3M338.5 350.05h3.3M545.5 350.05h-3.3M338.5 347h3.3M545.5 347h-3.3M338.5 344.52h3.3M545.5 344.52h-3.3M338.5 342.41h3.3M545.5 342.41h-3.3M338.5 340.59h3.3M545.5 340.59h-3.3M338.5 338.99h3.3M545.5 338.99h-3.3M338.5 337.55h6.3M545.5 337.55h-6.3M338.5 328.1h3.3M545.5 328.1h-3.3M338.5 322.57h3.3M545.5 322.57h-3.3M338.5 318.65h3.3M545.5 318.65h-3.3M338.5 315.6h3.3M545.5 315.6h-3.3M338.5 313.12h3.3M545.5 313.12h-3.3M338.5 311.01h3.3M545.5 311.01h-3.3M338.5 309.19h3.3M545.5 309.19h-3.3M338.5 307.59h3.3M545.5 307.59h-3.3M338.5 306.15h6.3M545.5 306.15h-6.3M338.5 296.7h3.3M545.5 296.7h-3.3M338.5 291.17h3.3M545.5 291.17h-3.3M338.5 287.25h3.3M545.5 287.25h-3.3M338.5 284.2h3.3M545.5 284.2h-3.3M338.5 281.72h3.3M545.5 281.72h-3.3M338.5 279.61h3.3M545.5 279.61h-3.3M338.5 277.79h3.3M545.5 277.79h-3.3M338.5 276.19h3.3M545.5 276.19h-3.3" fill="none" stroke="#000" stroke-width="1.3"/>
<clipPath id="c4"><rect x="337.85" y="274.1" width="208.3" height="158.3"/></clipPath>
<g clip-path="url(#c4)" fill="none" stroke-linejoin="round">
<path d="M400.15 432.88L400.67 431.33L401.15 429.77L401.64 428.2L402.11 426.64L402.58 425.07L403.04 423.5L403.49 421.93L403.93 420.35L404.35 418.77L404.77 417.18L405.16 415.59M410.17 398.8L414.68 383.01M418.19 367.22L421.45 351.19M423.46 329.38L424.46 335.15L425.71 336.4L427.59 333.27M437.49 319.86L438.67 318.44L439.92 317.09L441.22 315.82L442.58 314.63L443.99 313.54L445.46 312.51L447.01 311.54L448.61 310.65L450.27 309.84M466.31 307.33L468.02 307.58L469.71 307.89L471.38 308.26L473.04 308.67L474.67 309.11L476.29 309.62L477.9 310.2L479.48 310.86L481.05 311.57L482.6 312.34M496.38 321.61L497.72 322.68L499.03 323.78L500.31 324.91L501.56 326.07L502.78 327.26L503.97 328.47L505.12 329.71L506.25 330.99L507.34 332.3L508.41 333.64M519.69 345.42L530.96 357.2M541.49 369.98L542.72 371.31L543.93 372.65L545.13 374.01L546.33 375.37L547.5 376.75" stroke="#00ff00" stroke-width="1.3" stroke-linecap="round"/>
<path d="M336.75 397.46L337.57 396.88L338.39 396.3L339.2 395.71L340.01 395.12L340.83 394.53L341.63 393.93L342.44 393.33L343.25 392.73L344.05 392.13L344.85 391.53L345.65 390.92L346.45 390.31L347.25 389.7L348.05 389.09L348.85 388.48L349.64 387.87L350.44 387.25L351.23 386.64L352.02 386.02L352.82 385.41L353.61 384.79L354.4 384.17L355.19 383.55L355.98 382.93L356.77 382.3L357.55 381.68L358.34 381.05L359.12 380.42L359.9 379.78L360.68 379.15L361.45 378.51L362.22 377.87L362.99 377.22L363.75 376.57L364.51 375.91L365.27 375.26L366.02 374.59L366.78 373.93L367.53 373.26L368.27 372.59L369.02 371.92L369.76 371.24L370.51 370.56L371.25 369.89L371.99 369.21L372.73 368.53L373.47 367.84L374.2 367.16L374.94 366.48L375.68 365.8L376.41 365.11L377.14 364.42L377.87 363.73L378.59 363.03L379.31 362.33L380.03 361.63L380.75 360.92L381.47 360.22L382.19 359.52L382.91 358.82L383.63 358.12L384.36 357.43L385.09 356.74L385.82 356.05L386.56 355.37L387.3 354.7L388.05 354.03L388.82 353.39L389.62 352.76L390.44 352.16L391.27 351.55L392.08 350.95L392.88 350.33L393.65 349.69L394.37 349.02L395.04 348.3L395.65 347.53L396.23 346.71L396.77 345.85L397.29 344.97L397.78 344.09L398.21 343.16L398.61 342.2L399.02 341.26L399.47 340.38L400 339.59L400.7 338.78L401.53 338.14L402.42 338.06L403.39 338.06L404.42 338.06L405.47 338.06L406.5 338.06L407.48 338.03L408.46 337.84L409.44 337.53L410.39 337.13L411.32 336.71L412.22 336.29L413.08 335.79L413.91 335.22L414.72 334.61L415.55 334.02L416.41 333.48L417.31 332.96L418.19 332.43L418.99 331.85L419.66 331.19L420.27 330.41L420.83 329.53L421.31 328.62L421.69 327.69L421.97 326.75L422.2 325.78L422.39 324.79L422.58 323.79L422.78 322.79L423.01 321.8L423.22 320.57L423.47 319.41L423.82 318.89L424.59 319.51L425.47 319.68L426.31 319.11L427.18 318.44L428.1 318.13L429.06 317.93L430.06 317.76L431.07 317.62L432.09 317.51L433.09 317.4L434.09 317.3L435.09 317.2L436.1 317.1L437.1 317.01L438.11 316.93L439.11 316.86L440.12 316.8L441.11 316.77L442.11 316.76L443.1 316.83L444.09 316.98L445.07 317.2L446.06 317.45L447.04 317.72L448.01 317.98L448.99 318.22L449.96 318.47L450.93 318.74L451.89 319.02L452.86 319.3L453.82 319.59L454.79 319.87L455.75 320.15L456.71 320.45L457.67 320.74L458.63 321.04L459.59 321.33L460.56 321.61L461.52 321.87L462.5 322.12L463.47 322.37L464.44 322.62L465.42 322.86L466.39 323.12L467.36 323.38L468.32 323.65L469.29 323.93L470.26 324.21L471.22 324.5L472.18 324.8L473.13 325.11L474.08 325.44L475.03 325.78L475.97 326.14L476.91 326.51L477.84 326.89L478.76 327.3L479.66 327.72L480.54 328.18L481.41 328.67L482.27 329.19L483.13 329.73L483.98 330.27L484.83 330.81L485.68 331.34L486.55 331.86L487.41 332.38L488.27 332.89L489.13 333.41L489.99 333.93L490.85 334.44L491.71 334.96L492.58 335.47L493.45 335.98L494.33 336.47L495.21 336.97L496.08 337.47L496.94 337.99L497.78 338.54L498.59 339.11L499.37 339.72L500.13 340.37L500.88 341.04L501.62 341.73L502.35 342.43L503.07 343.13L503.81 343.82L504.55 344.51L505.29 345.18L506.04 345.85L506.78 346.52L507.53 347.19L508.28 347.87L509.02 348.54L509.77 349.21L510.52 349.88L511.26 350.55L512.01 351.23L512.76 351.9L513.5 352.57L514.25 353.24L515 353.91L515.74 354.59L516.49 355.26L517.24 355.93L517.98 356.6L518.72 357.28L519.47 357.96L520.21 358.63L520.95 359.31L521.7 359.98L522.45 360.65L523.2 361.31L523.97 361.96L524.75 362.59L525.54 363.22L526.32 363.86L527.07 364.52L527.78 365.22L528.47 365.94L529.14 366.69L529.79 367.45L530.45 368.22L531.1 368.99L531.75 369.76L532.42 370.51L533.08 371.26L533.75 372.01L534.42 372.76L535.08 373.51L535.75 374.27L536.42 375.02L537.09 375.77L537.75 376.52L538.42 377.27L539.08 378.02L539.75 378.77L540.42 379.52L541.08 380.27L541.75 381.02L542.42 381.77L543.1 382.52L543.77 383.26L544.45 384L545.13 384.74L545.8 385.49L546.48 386.23L547.15 386.97L547.83 387.71L548.51 388.46" stroke="#ff0000" stroke-width="2.8"/>
</g>
<circle cx="396.7" cy="355.87" r="3.05" fill="#0000ff"/>
<circle cx="409.49" cy="337.5" r="3.05" fill="#0000ff"/>
<circle cx="412.28" cy="331.97" r="3.05" fill="#0000ff"/>
<circle cx="419.95" cy="324.11" r="3.05" fill="#0000ff"/>
<circle cx="435.56" cy="297.49" r="3.05" fill="#0000ff"/>
<circle cx="439.55" cy="295.41" r="3.05" fill="#0000ff"/>
<circle cx="441.91" cy="299.78" r="3.05" fill="#0000ff"/>
<circle cx="477.65" cy="303.96" r="3.05" fill="#0000ff"/>
<circle cx="484.52" cy="305.96" r="3.05" fill="#0000ff"/>
<circle cx="498.5" cy="311.97" r="3.05" fill="#0000ff"/>
<text transform="translate(442.1 268.6) scale(1.13 1)" font-family="'Liberation Serif', serif" font-size="13.6" text-anchor="middle" dx="0 1.8 0.8 0 0 0 0 2.3 0" fill="#000" stroke="#000" stroke-width="0.6" stroke-linejoin="round" xml:space="preserve">t=1000 yr</text>
<text transform="translate(442.1 472.7) scale(1.2 1)" font-family="'Liberation Serif', serif" font-size="14.0" text-anchor="middle" fill="#000" stroke="#000" stroke-width="0.6" stroke-linejoin="round" xml:space="preserve">λ(<tspan font-style="italic">μ</tspan>m)</text>
<text transform="translate(294.9 353.2) rotate(-90) scale(1.03 1)" font-family="'Liberation Serif', serif" font-size="14.6" text-anchor="middle" fill="#000" stroke="#000" stroke-width="0.6" stroke-linejoin="round">F<tspan font-size="10.5" dy="3.2">λ</tspan><tspan dy="-3.2">(Jy)</tspan></text>
<text transform="translate(415.7 447.3) scale(1.12 1)" font-family="'Liberation Serif', serif" font-size="13.6" text-anchor="end" fill="#000" stroke="#000" stroke-width="0.6" stroke-linejoin="round" xml:space="preserve">10<tspan font-size="10.8" dy="-6.0">1</tspan></text>
<text transform="translate(509.7 447.3) scale(1.12 1)" font-family="'Liberation Serif', serif" font-size="13.6" text-anchor="end" fill="#000" stroke="#000" stroke-width="0.6" stroke-linejoin="round" xml:space="preserve">10<tspan font-size="10.8" dy="-6.0">2</tspan></text>
<text transform="translate(331.9 436) scale(1.12 1)" font-family="'Liberation Serif', serif" font-size="13.6" text-anchor="end" fill="#000" stroke="#000" stroke-width="0.6" stroke-linejoin="round" xml:space="preserve">10<tspan font-size="10.8" dy="-6.0">−2</tspan></text>
<text transform="translate(331.9 404.6) scale(1.12 1)" font-family="'Liberation Serif', serif" font-size="13.6" text-anchor="end" fill="#000" stroke="#000" stroke-width="0.6" stroke-linejoin="round" xml:space="preserve">10<tspan font-size="10.8" dy="-6.0">−1</tspan></text>
<text transform="translate(328.4 373.2) scale(1.12 1)" font-family="'Liberation Serif', serif" font-size="13.6" text-anchor="end" fill="#000" stroke="#000" stroke-width="0.6" stroke-linejoin="round" xml:space="preserve">1</text>
<text transform="translate(331.4 341.8) scale(1.12 1)" font-family="'Liberation Serif', serif" font-size="13.6" text-anchor="end" fill="#000" stroke="#000" stroke-width="0.6" stroke-linejoin="round" xml:space="preserve">10<tspan font-size="10.8" dy="-6.0">1</tspan></text>
<text transform="translate(331.4 310.4) scale(1.12 1)" font-family="'Liberation Serif', serif" font-size="13.6" text-anchor="end" fill="#000" stroke="#000" stroke-width="0.6" stroke-linejoin="round" xml:space="preserve">10<tspan font-size="10.8" dy="-6.0">2</tspan></text>
<text transform="translate(331.4 279) scale(1.12 1)" font-family="'Liberation Serif', serif" font-size="13.6" text-anchor="end" fill="#000" stroke="#000" stroke-width="0.6" stroke-linejoin="round" xml:space="preserve">10<tspan font-size="10.8" dy="-6.0">3</tspan></text>
</g>
<g>
<rect x="621.5" y="274.75" width="207" height="157" fill="none" stroke="#000" stroke-width="1.3"/>
<path d="M638.17 274.75v3.3M638.17 431.75v-3.3M649.92 274.75v3.3M649.92 431.75v-3.3M659.04 274.75v3.3M659.04 431.75v-3.3M666.49 274.75v3.3M666.49 431.75v-3.3M672.79 274.75v3.3M672.79 431.75v-3.3M678.25 274.75v3.3M678.25 431.75v-3.3M683.06 274.75v3.3M683.06 431.75v-3.3M687.36 274.75v6.3M687.36 431.75v-6.3M715.69 274.75v3.3M715.69 431.75v-3.3M732.26 274.75v3.3M732.26 431.75v-3.3M744.01 274.75v3.3M744.01 431.75v-3.3M753.13 274.75v3.3M753.13 431.75v-3.3M760.58 274.75v3.3M760.58 431.75v-3.3M766.88 274.75v3.3M766.88 431.75v-3.3M772.34 274.75v3.3M772.34 431.75v-3.3M777.15 274.75v3.3M777.15 431.75v-3.3M781.45 274.75v6.3M781.45 431.75v-6.3M809.78 274.75v3.3M809.78 431.75v-3.3M826.35 274.75v3.3M826.35 431.75v-3.3M621.5 422.3h3.3M828.5 422.3h-3.3M621.5 416.77h3.3M828.5 416.77h-3.3M621.5 412.85h3.3M828.5 412.85h-3.3M621.5 409.8h3.3M828.5 409.8h-3.3M621.5 407.32h3.3M828.5 407.32h-3.3M621.5 405.21h3.3M828.5 405.21h-3.3M621.5 403.39h3.3M828.5 403.39h-3.3M621.5 401.79h3.3M828.5 401.79h-3.3M621.5 400.35h6.3M828.5 400.35h-6.3M621.5 390.9h3.3M828.5 390.9h-3.3M621.5 385.37h3.3M828.5 385.37h-3.3M621.5 381.45h3.3M828.5 381.45h-3.3M621.5 378.4h3.3M828.5 378.4h-3.3M621.5 375.92h3.3M828.5 375.92h-3.3M621.5 373.81h3.3M828.5 373.81h-3.3M621.5 371.99h3.3M828.5 371.99h-3.3M621.5 370.39h3.3M828.5 370.39h-3.3M621.5 368.95h6.3M828.5 368.95h-6.3M621.5 359.5h3.3M828.5 359.5h-3.3M621.5 353.97h3.3M828.5 353.97h-3.3M621.5 350.05h3.3M828.5 350.05h-3.3M621.5 347h3.3M828.5 347h-3.3M621.5 344.52h3.3M828.5 344.52h-3.3M621.5 342.41h3.3M828.5 342.41h-3.3M621.5 340.59h3.3M828.5 340.59h-3.3M621.5 338.99h3.3M828.5 338.99h-3.3M621.5 337.55h6.3M828.5 337.55h-6.3M621.5 328.1h3.3M828.5 328.1h-3.3M621.5 322.57h3.3M828.5 322.57h-3.3M621.5 318.65h3.3M828.5 318.65h-3.3M621.5 315.6h3.3M828.5 315.6h-3.3M621.5 313.12h3.3M828.5 313.12h-3.3M621.5 311.01h3.3M828.5 311.01h-3.3M621.5 309.19h3.3M828.5 309.19h-3.3M621.5 307.59h3.3M828.5 307.59h-3.3M621.5 306.15h6.3M828.5 306.15h-6.3M621.5 296.7h3.3M828.5 296.7h-3.3M621.5 291.17h3.3M828.5 291.17h-3.3M621.5 287.25h3.3M828.5 287.25h-3.3M621.5 284.2h3.3M828.5 284.2h-3.3M621.5 281.72h3.3M828.5 281.72h-3.3M621.5 279.61h3.3M828.5 279.61h-3.3M621.5 277.79h3.3M828.5 277.79h-3.3M621.5 276.19h3.3M828.5 276.19h-3.3" fill="none" stroke="#000" stroke-width="1.3"/>
<clipPath id="c5"><rect x="620.85" y="274.1" width="208.3" height="158.3"/></clipPath>
<g clip-path="url(#c5)" fill="none" stroke-linejoin="round">
<path d="M687.66 432.88L688.22 431.21L688.79 429.55L689.38 427.89L689.96 426.23L690.56 424.57L691.16 422.92L691.78 421.27L692.4 419.62L693.03 417.98L693.67 416.34M697.43 399.3L701.19 383.01M703.45 367.22L705.58 350.68M707.21 343.79L708.71 347.8L714.98 336.9M726.25 321.61L727.7 320.41L729.21 319.3L730.76 318.31L732.36 317.43L734.01 316.66L735.72 315.97L737.47 315.35L739.28 314.85M755.07 313.6L756.82 313.9L758.53 314.31L760.2 314.79L761.83 315.34L763.43 315.94L764.99 316.6L766.51 317.39L768 318.3L769.45 319.29L770.86 320.36M783.89 330.39L785.24 331.36L786.56 332.38L787.84 333.42L789.09 334.5L790.31 335.61L791.5 336.74L792.66 337.91L793.78 339.13L794.87 340.38L795.92 341.66M807.2 352.94L819.48 365.47" stroke="#00ff00" stroke-width="1.3" stroke-linecap="round"/>
<path d="M619.75 408.71L620.53 408.09L621.32 407.46L622.1 406.83L622.89 406.2L623.68 405.58L624.47 404.96L625.25 404.33L626.04 403.71L626.83 403.08L627.62 402.46L628.4 401.83L629.19 401.2L629.97 400.58L630.76 399.95L631.54 399.31L632.32 398.68L633.1 398.04L633.87 397.4L634.64 396.76L635.42 396.12L636.19 395.47L636.95 394.82L637.72 394.17L638.49 393.52L639.25 392.87L640.01 392.21L640.78 391.56L641.54 390.91L642.3 390.25L643.07 389.6L643.83 388.94L644.59 388.29L645.36 387.64L646.12 386.98L646.89 386.33L647.66 385.68L648.42 385.03L649.19 384.38L649.96 383.74L650.73 383.09L651.49 382.44L652.26 381.79L653.03 381.14L653.79 380.49L654.56 379.84L655.33 379.19L656.09 378.53L656.85 377.88L657.62 377.22L658.38 376.57L659.14 375.91L659.89 375.24L660.64 374.57L661.38 373.89L662.13 373.21L662.87 372.52L663.61 371.84L664.35 371.15L665.09 370.47L665.83 369.79L666.58 369.12L667.34 368.46L668.1 367.8L668.86 367.15L669.64 366.52L670.42 365.9L671.21 365.29L672.03 364.71L672.87 364.15L673.71 363.6L674.56 363.06L675.4 362.5L676.22 361.92L677.08 361.33L677.95 360.73L678.74 360.09L679.32 359.39L679.74 358.58L680.09 357.69L680.4 356.73L680.67 355.73L680.93 354.7L681.2 353.68L681.51 352.69L681.85 351.73L682.21 350.63L682.57 349.43L682.95 348.27L683.38 347.31L683.88 346.7L684.49 346.57L685.34 346.62L686.4 346.71L687.52 346.82L688.6 346.93L689.61 347.07L690.64 347.27L691.66 347.48L692.67 347.66L693.63 347.79L694.53 347.8L695.38 347.51L696.18 346.93L696.96 346.17L697.73 345.36L698.49 344.6L699.28 343.96L700.12 343.32L700.93 342.67L701.68 342L702.3 341.27L702.78 340.47L703.21 339.59L703.59 338.65L703.93 337.67L704.24 336.68L704.53 335.69L704.78 334.71L704.99 333.68L705.15 332.6L705.29 331.5L705.43 330.43L705.6 329.42L705.82 328.5L706.1 327.72L706.6 327.1L707.52 326.59L708.52 326.12L709.4 325.59L710.27 325.02L711.15 324.5L712.06 324.11L713 323.92L713.97 323.78L714.97 323.67L715.98 323.58L717 323.51L718.02 323.43L719.03 323.36L720.03 323.28L721.03 323.2L722.04 323.12L723.04 323.06L724.05 323.02L725.05 323.01L726.05 323.03L727.06 323.09L728.06 323.17L729.07 323.28L730.07 323.39L731.06 323.52L732.05 323.66L733.03 323.86L734.01 324.1L734.98 324.37L735.95 324.64L736.93 324.9L737.91 325.14L738.88 325.38L739.86 325.62L740.83 325.86L741.81 326.1L742.79 326.33L743.77 326.55L744.75 326.75L745.74 326.95L746.73 327.15L747.71 327.34L748.7 327.53L749.68 327.73L750.67 327.93L751.65 328.14L752.64 328.34L753.62 328.55L754.6 328.77L755.58 329L756.56 329.24L757.53 329.49L758.51 329.75L759.48 330.03L760.45 330.32L761.4 330.63L762.34 330.97L763.26 331.34L764.16 331.77L765.05 332.23L765.93 332.73L766.81 333.24L767.68 333.76L768.55 334.27L769.42 334.77L770.29 335.28L771.15 335.79L772.01 336.31L772.87 336.84L773.73 337.36L774.59 337.88L775.45 338.4L776.32 338.9L777.2 339.4L778.08 339.9L778.96 340.4L779.82 340.92L780.66 341.46L781.47 342.03L782.26 342.64L783.03 343.28L783.78 343.95L784.52 344.63L785.25 345.33L785.98 346.03L786.71 346.73L787.45 347.42L788.19 348.09L788.93 348.77L789.68 349.45L790.42 350.13L791.16 350.81L791.91 351.48L792.66 352.15L793.41 352.81L794.18 353.46L794.95 354.1L795.73 354.74L796.52 355.36L797.31 355.99L798.1 356.61L798.89 357.23L799.68 357.85L800.46 358.48L801.25 359.1L802.04 359.73L802.82 360.36L803.61 360.98L804.4 361.61L805.18 362.24L805.96 362.87L806.74 363.5L807.53 364.13L808.32 364.76L809.09 365.4L809.85 366.06L810.57 366.75L811.26 367.47L811.94 368.21L812.6 368.97L813.25 369.74L813.9 370.51L814.56 371.28L815.22 372.04L815.89 372.79L816.56 373.54L817.22 374.29L817.89 375.04L818.56 375.8L819.23 376.55L819.89 377.3L820.56 378.05L821.23 378.81L821.89 379.56L822.55 380.32L823.21 381.08L823.88 381.83L824.55 382.57L825.24 383.31L825.94 384.03L826.65 384.74L827.37 385.44L828.09 386.14L828.8 386.86L829.49 387.59L830.17 388.33L830.84 389.07L831.51 389.83" stroke="#ff0000" stroke-width="2.8"/>
</g>
<circle cx="679.7" cy="355.87" r="3.05" fill="#0000ff"/>
<circle cx="692.49" cy="337.5" r="3.05" fill="#0000ff"/>
<circle cx="695.28" cy="331.97" r="3.05" fill="#0000ff"/>
<circle cx="702.95" cy="324.11" r="3.05" fill="#0000ff"/>
<circle cx="718.56" cy="297.49" r="3.05" fill="#0000ff"/>
<circle cx="722.55" cy="295.41" r="3.05" fill="#0000ff"/>
<circle cx="724.91" cy="299.78" r="3.05" fill="#0000ff"/>
<circle cx="760.65" cy="303.96" r="3.05" fill="#0000ff"/>
<circle cx="767.52" cy="305.96" r="3.05" fill="#0000ff"/>
<circle cx="781.5" cy="311.97" r="3.05" fill="#0000ff"/>
<text transform="translate(725.1 268.6) scale(1.13 1)" font-family="'Liberation Serif', serif" font-size="13.6" text-anchor="middle" dx="0 1.8 0.8 0 0 0 0 2.3 0" fill="#000" stroke="#000" stroke-width="0.6" stroke-linejoin="round" xml:space="preserve">t=1200 yr</text>
<text transform="translate(725.1 472.7) scale(1.2 1)" font-family="'Liberation Serif', serif" font-size="14.0" text-anchor="middle" fill="#000" stroke="#000" stroke-width="0.6" stroke-linejoin="round" xml:space="preserve">λ(<tspan font-style="italic">μ</tspan>m)</text>
<text transform="translate(577.9 353.2) rotate(-90) scale(1.03 1)" font-family="'Liberation Serif', serif" font-size="14.6" text-anchor="middle" fill="#000" stroke="#000" stroke-width="0.6" stroke-linejoin="round">F<tspan font-size="10.5" dy="3.2">λ</tspan><tspan dy="-3.2">(Jy)</tspan></text>
<text transform="translate(698.7 447.3) scale(1.12 1)" font-family="'Liberation Serif', serif" font-size="13.6" text-anchor="end" fill="#000" stroke="#000" stroke-width="0.6" stroke-linejoin="round" xml:space="preserve">10<tspan font-size="10.8" dy="-6.0">1</tspan></text>
<text transform="translate(792.7 447.3) scale(1.12 1)" font-family="'Liberation Serif', serif" font-size="13.6" text-anchor="end" fill="#000" stroke="#000" stroke-width="0.6" stroke-linejoin="round" xml:space="preserve">10<tspan font-size="10.8" dy="-6.0">2</tspan></text>
<text transform="translate(614.9 436) scale(1.12 1)" font-family="'Liberation Serif', serif" font-size="13.6" text-anchor="end" fill="#000" stroke="#000" stroke-width="0.6" stroke-linejoin="round" xml:space="preserve">10<tspan font-size="10.8" dy="-6.0">−2</tspan></text>
<text transform="translate(614.9 404.6) scale(1.12 1)" font-family="'Liberation Serif', serif" font-size="13.6" text-anchor="end" fill="#000" stroke="#000" stroke-width="0.6" stroke-linejoin="round" xml:space="preserve">10<tspan font-size="10.8" dy="-6.0">−1</tspan></text>
<text transform="translate(611.4 373.2) scale(1.12 1)" font-family="'Liberation Serif', serif" font-size="13.6" text-anchor="end" fill="#000" stroke="#000" stroke-width="0.6" stroke-linejoin="round" xml:space="preserve">1</text>
<text transform="translate(614.4 341.8) scale(1.12 1)" font-family="'Liberation Serif', serif" font-size="13.6" text-anchor="end" fill="#000" stroke="#000" stroke-width="0.6" stroke-linejoin="round" xml:space="preserve">10<tspan font-size="10.8" dy="-6.0">1</tspan></text>
<text transform="translate(614.4 310.4) scale(1.12 1)" font-family="'Liberation Serif', serif" font-size="13.6" text-anchor="end" fill="#000" stroke="#000" stroke-width="0.6" stroke-linejoin="round" xml:space="preserve">10<tspan font-size="10.8" dy="-6.0">2</tspan></text>
<text transform="translate(614.4 279) scale(1.12 1)" font-family="'Liberation Serif', serif" font-size="13.6" text-anchor="end" fill="#000" stroke="#000" stroke-width="0.6" stroke-linejoin="round" xml:space="preserve">10<tspan font-size="10.8" dy="-6.0">3</tspan></text>
</g>
<g>
<rect x="55.5" y="533.75" width="207" height="157" fill="none" stroke="#000" stroke-width="1.3"/>
<path d="M72.17 533.75v3.3M72.17 690.75v-3.3M83.92 533.75v3.3M83.92 690.75v-3.3M93.04 533.75v3.3M93.04 690.75v-3.3M100.49 533.75v3.3M100.49 690.75v-3.3M106.79 533.75v3.3M106.79 690.75v-3.3M112.25 533.75v3.3M112.25 690.75v-3.3M117.06 533.75v3.3M117.06 690.75v-3.3M121.36 533.75v6.3M121.36 690.75v-6.3M149.69 533.75v3.3M149.69 690.75v-3.3M166.26 533.75v3.3M166.26 690.75v-3.3M178.01 533.75v3.3M178.01 690.75v-3.3M187.13 533.75v3.3M187.13 690.75v-3.3M194.58 533.75v3.3M194.58 690.75v-3.3M200.88 533.75v3.3M200.88 690.75v-3.3M206.34 533.75v3.3M206.34 690.75v-3.3M211.15 533.75v3.3M211.15 690.75v-3.3M215.45 533.75v6.3M215.45 690.75v-6.3M243.78 533.75v3.3M243.78 690.75v-3.3M260.35 533.75v3.3M260.35 690.75v-3.3M55.5 681.3h3.3M262.5 681.3h-3.3M55.5 675.77h3.3M262.5 675.77h-3.3M55.5 671.85h3.3M262.5 671.85h-3.3M55.5 668.8h3.3M262.5 668.8h-3.3M55.5 666.32h3.3M262.5 666.32h-3.3M55.5 664.21h3.3M262.5 664.21h-3.3M55.5 662.39h3.3M262.5 662.39h-3.3M55.5 660.79h3.3M262.5 660.79h-3.3M55.5 659.35h6.3M262.5 659.35h-6.3M55.5 649.9h3.3M262.5 649.9h-3.3M55.5 644.37h3.3M262.5 644.37h-3.3M55.5 640.45h3.3M262.5 640.45h-3.3M55.5 637.4h3.3M262.5 637.4h-3.3M55.5 634.92h3.3M262.5 634.92h-3.3M55.5 632.81h3.3M262.5 632.81h-3.3M55.5 630.99h3.3M262.5 630.99h-3.3M55.5 629.39h3.3M262.5 629.39h-3.3M55.5 627.95h6.3M262.5 627.95h-6.3M55.5 618.5h3.3M262.5 618.5h-3.3M55.5 612.97h3.3M262.5 612.97h-3.3M55.5 609.05h3.3M262.5 609.05h-3.3M55.5 606h3.3M262.5 606h-3.3M55.5 603.52h3.3M262.5 603.52h-3.3M55.5 601.41h3.3M262.5 601.41h-3.3M55.5 599.59h3.3M262.5 599.59h-3.3M55.5 597.99h3.3M262.5 597.99h-3.3M55.5 596.55h6.3M262.5 596.55h-6.3M55.5 587.1h3.3M262.5 587.1h-3.3M55.5 581.57h3.3M262.5 581.57h-3.3M55.5 577.65h3.3M262.5 577.65h-3.3M55.5 574.6h3.3M262.5 574.6h-3.3M55.5 572.12h3.3M262.5 572.12h-3.3M55.5 570.01h3.3M262.5 570.01h-3.3M55.5 568.19h3.3M262.5 568.19h-3.3M55.5 566.59h3.3M262.5 566.59h-3.3M55.5 565.15h6.3M262.5 565.15h-6.3M55.5 555.7h3.3M262.5 555.7h-3.3M55.5 550.17h3.3M262.5 550.17h-3.3M55.5 546.25h3.3M262.5 546.25h-3.3M55.5 543.2h3.3M262.5 543.2h-3.3M55.5 540.72h3.3M262.5 540.72h-3.3M55.5 538.61h3.3M262.5 538.61h-3.3M55.5 536.79h3.3M262.5 536.79h-3.3M55.5 535.19h3.3M262.5 535.19h-3.3" fill="none" stroke="#000" stroke-width="1.3"/>
<clipPath id="c6"><rect x="54.85" y="533.1" width="208.3" height="158.3"/></clipPath>
<g clip-path="url(#c6)" fill="none" stroke-linejoin="round">
<path d="M119.66 691.88L120.2 690.24L120.73 688.6L121.25 686.95L121.76 685.3L122.27 683.65L122.77 681.99L123.26 680.33L123.74 678.67L124.21 677.01L124.67 675.34M130.68 659.55L134.69 643.27M137.7 626.98L140.2 610.69M142.71 594.4L143.02 592.58L143.44 590.81L143.94 589.08L144.52 587.39L145.15 585.74L145.83 584.13L146.62 582.56L147.56 581.03L148.6 579.55L149.73 578.11M160.25 566.08L161.47 564.75L162.75 563.53L164.1 562.45L165.5 561.56L166.97 560.88L168.5 560.29L170.1 559.76L171.76 559.31L173.5 558.98L175.29 558.81M191.08 559.31L192.76 559.81L194.41 560.37L196.03 560.98L197.62 561.64L199.19 562.34L200.72 563.12L202.24 563.96L203.72 564.86L205.18 565.82L206.61 566.83M219.65 576.86L221 577.83L222.32 578.84L223.6 579.88L224.85 580.96L226.07 582.06L227.26 583.2L228.41 584.38L229.53 585.59L230.62 586.85L231.67 588.13M242.45 600.16L254.23 612.69" stroke="#00ff00" stroke-width="1.3" stroke-linecap="round"/>
<path d="M53.75 676.58L54.61 676.07L55.46 675.54L56.31 675L57.16 674.46L58 673.91L58.84 673.36L59.67 672.8L60.51 672.24L61.34 671.68L62.17 671.11L63 670.55L63.83 669.98L64.66 669.41L65.49 668.84L66.32 668.27L67.14 667.7L67.97 667.13L68.8 666.57L69.63 666L70.46 665.44L71.3 664.87L72.13 664.3L72.96 663.73L73.78 663.16L74.61 662.59L75.43 662.02L76.26 661.44L77.07 660.85L77.89 660.27L78.7 659.68L79.51 659.08L80.31 658.48L81.11 657.87L81.91 657.26L82.7 656.64L83.49 656.02L84.27 655.38L85.05 654.74L85.81 654.1L86.57 653.44L87.31 652.77L88.05 652.08L88.78 651.39L89.5 650.69L90.22 649.99L90.93 649.28L91.65 648.57L92.36 647.86L93.08 647.16L93.8 646.46L94.51 645.75L95.23 645.05L95.94 644.34L96.65 643.63L97.36 642.91L98.06 642.2L98.76 641.47L99.45 640.74L100.13 640L100.79 639.25L101.46 638.49L102.12 637.74L102.79 636.98L103.46 636.24L104.14 635.5L104.83 634.77L105.55 634.07L106.29 633.39L107.05 632.72L107.81 632.06L108.56 631.39L109.3 630.71L110 629.99L110.69 629.25L111.4 628.48L112.01 627.68L112.44 626.83L112.72 625.91L112.95 624.94L113.14 623.94L113.32 622.92L113.51 621.91L113.73 620.93L113.97 619.95L114.21 618.97L114.45 618L114.7 617.03L114.96 616.06L115.23 615.09L115.51 614.12L115.8 613.16L116.1 612.2L116.42 611.25L116.71 610.24L117 609.17L117.31 608.13L117.68 607.2L118.13 606.45L118.82 605.87L119.83 605.45L120.79 605.46L121.76 605.7L122.74 606.06L123.69 606.45L124.61 606.88L125.53 607.49L126.44 608.16L127.31 608.78L128.15 609.24L128.93 609.42L129.65 609.18L130.33 608.55L130.97 607.67L131.6 606.67L132.22 605.68L132.85 604.84L133.49 604.06L134.13 603.27L134.76 602.48L135.37 601.68L135.94 600.85L136.45 600.01L136.94 599.14L137.41 598.24L137.85 597.32L138.25 596.38L138.58 595.44L138.84 594.49L139.06 593.53L139.26 592.56L139.43 591.57L139.59 590.58L139.74 589.58L139.89 588.58L140.02 587.57L140.16 586.57L140.31 585.57L140.47 584.57L140.64 583.57L140.83 582.59L141.04 581.6L141.26 580.62L141.48 579.64L141.72 578.66L141.97 577.69L142.23 576.72L142.51 575.75L142.8 574.79L143.09 573.81L143.39 572.81L143.73 571.84L144.12 570.92L144.57 570.09L145.17 569.32L145.93 568.6L146.77 568L147.61 567.54L148.52 567.16L149.48 566.82L150.46 566.52L151.45 566.24L152.42 565.96L153.39 565.69L154.36 565.44L155.34 565.21L156.32 564.98L157.3 564.76L158.28 564.52L159.26 564.28L160.24 564.06L161.23 563.89L162.22 563.79L163.23 563.73L164.23 563.68L165.24 563.66L166.24 563.7L167.23 563.8L168.23 563.94L169.22 564.12L170.22 564.3L171.21 564.49L172.2 564.66L173.18 564.85L174.17 565.05L175.15 565.26L176.13 565.47L177.12 565.67L178.11 565.85L179.1 566.01L180.09 566.17L181.09 566.32L182.08 566.47L183.07 566.63L184.06 566.8L185.05 566.97L186.04 567.15L187.04 567.33L188.02 567.52L189.01 567.73L189.98 567.96L190.94 568.22L191.91 568.51L192.86 568.82L193.81 569.17L194.75 569.54L195.68 569.92L196.6 570.31L197.51 570.72L198.41 571.17L199.3 571.64L200.19 572.12L201.06 572.63L201.93 573.14L202.79 573.65L203.65 574.17L204.49 574.72L205.33 575.28L206.16 575.84L206.99 576.41L207.82 576.98L208.66 577.53L209.51 578.06L210.38 578.58L211.26 579.08L212.14 579.57L213.01 580.07L213.87 580.58L214.72 581.12L215.53 581.69L216.32 582.29L217.1 582.93L217.86 583.59L218.6 584.26L219.34 584.95L220.08 585.64L220.82 586.33L221.56 587.01L222.3 587.69L223.04 588.37L223.78 589.05L224.51 589.74L225.25 590.43L225.98 591.11L226.72 591.79L227.47 592.46L228.22 593.13L228.98 593.78L229.75 594.43L230.53 595.07L231.3 595.71L232.08 596.35L232.85 596.99L233.62 597.64L234.38 598.29L235.13 598.96L235.88 599.63L236.62 600.31L237.36 600.99L238.1 601.67L238.85 602.34L239.59 603.01L240.35 603.68L241.12 604.32L241.91 604.95L242.69 605.58L243.47 606.22L244.21 606.89L244.91 607.6L245.6 608.33L246.27 609.08L246.92 609.84L247.57 610.61L248.22 611.38L248.88 612.15L249.55 612.9L250.22 613.65L250.89 614.39L251.57 615.14L252.24 615.89L252.91 616.64L253.57 617.39L254.22 618.16L254.86 618.93L255.48 619.72L256.1 620.52L256.71 621.32L257.32 622.12L257.95 622.9L258.58 623.68L259.24 624.43L259.93 625.16L260.64 625.87L261.36 626.57L262.09 627.27L262.8 627.98L263.49 628.71L264.17 629.45L264.84 630.2L265.51 630.95" stroke="#ff0000" stroke-width="2.8"/>
</g>
<circle cx="113.7" cy="614.87" r="3.05" fill="#0000ff"/>
<circle cx="126.49" cy="596.5" r="3.05" fill="#0000ff"/>
<circle cx="129.28" cy="590.97" r="3.05" fill="#0000ff"/>
<circle cx="136.95" cy="583.11" r="3.05" fill="#0000ff"/>
<circle cx="152.56" cy="556.49" r="3.05" fill="#0000ff"/>
<circle cx="156.55" cy="554.41" r="3.05" fill="#0000ff"/>
<circle cx="158.91" cy="558.78" r="3.05" fill="#0000ff"/>
<circle cx="194.65" cy="562.96" r="3.05" fill="#0000ff"/>
<circle cx="201.52" cy="564.96" r="3.05" fill="#0000ff"/>
<circle cx="215.5" cy="570.97" r="3.05" fill="#0000ff"/>
<text transform="translate(159.1 527.6) scale(1.13 1)" font-family="'Liberation Serif', serif" font-size="13.6" text-anchor="middle" dx="0 1.8 0.8 0 0 0 0 2.3 0" fill="#000" stroke="#000" stroke-width="0.6" stroke-linejoin="round" xml:space="preserve">t=1400 yr</text>
<text transform="translate(159.1 731.7) scale(1.2 1)" font-family="'Liberation Serif', serif" font-size="14.0" text-anchor="middle" fill="#000" stroke="#000" stroke-width="0.6" stroke-linejoin="round" xml:space="preserve">λ(<tspan font-style="italic">μ</tspan>m)</text>
<text transform="translate(11.9 612.2) rotate(-90) scale(1.03 1)" font-family="'Liberation Serif', serif" font-size="14.6" text-anchor="middle" fill="#000" stroke="#000" stroke-width="0.6" stroke-linejoin="round">F<tspan font-size="10.5" dy="3.2">λ</tspan><tspan dy="-3.2">(Jy)</tspan></text>
<text transform="translate(132.7 706.3) scale(1.12 1)" font-family="'Liberation Serif', serif" font-size="13.6" text-anchor="end" fill="#000" stroke="#000" stroke-width="0.6" stroke-linejoin="round" xml:space="preserve">10<tspan font-size="10.8" dy="-6.0">1</tspan></text>
<text transform="translate(226.7 706.3) scale(1.12 1)" font-family="'Liberation Serif', serif" font-size="13.6" text-anchor="end" fill="#000" stroke="#000" stroke-width="0.6" stroke-linejoin="round" xml:space="preserve">10<tspan font-size="10.8" dy="-6.0">2</tspan></text>
<text transform="translate(48.9 695) scale(1.12 1)" font-family="'Liberation Serif', serif" font-size="13.6" text-anchor="end" fill="#000" stroke="#000" stroke-width="0.6" stroke-linejoin="round" xml:space="preserve">10<tspan font-size="10.8" dy="-6.0">−2</tspan></text>
<text transform="translate(48.9 663.6) scale(1.12 1)" font-family="'Liberation Serif', serif" font-size="13.6" text-anchor="end" fill="#000" stroke="#000" stroke-width="0.6" stroke-linejoin="round" xml:space="preserve">10<tspan font-size="10.8" dy="-6.0">−1</tspan></text>
<text transform="translate(45.4 632.2) scale(1.12 1)" font-family="'Liberation Serif', serif" font-size="13.6" text-anchor="end" fill="#000" stroke="#000" stroke-width="0.6" stroke-linejoin="round" xml:space="preserve">1</text>
<text transform="translate(48.4 600.8) scale(1.12 1)" font-family="'Liberation Serif', serif" font-size="13.6" text-anchor="end" fill="#000" stroke="#000" stroke-width="0.6" stroke-linejoin="round" xml:space="preserve">10<tspan font-size="10.8" dy="-6.0">1</tspan></text>
<text transform="translate(48.4 569.4) scale(1.12 1)" font-family="'Liberation Serif', serif" font-size="13.6" text-anchor="end" fill="#000" stroke="#000" stroke-width="0.6" stroke-linejoin="round" xml:space="preserve">10<tspan font-size="10.8" dy="-6.0">2</tspan></text>
<text transform="translate(48.4 538) scale(1.12 1)" font-family="'Liberation Serif', serif" font-size="13.6" text-anchor="end" fill="#000" stroke="#000" stroke-width="0.6" stroke-linejoin="round" xml:space="preserve">10<tspan font-size="10.8" dy="-6.0">3</tspan></text>
</g>
<g>
<rect x="338.5" y="533.75" width="207" height="157" fill="none" stroke="#000" stroke-width="1.3"/>
<path d="M355.17 533.75v3.3M355.17 690.75v-3.3M366.92 533.75v3.3M366.92 690.75v-3.3M376.04 533.75v3.3M376.04 690.75v-3.3M383.49 533.75v3.3M383.49 690.75v-3.3M389.79 533.75v3.3M389.79 690.75v-3.3M395.25 533.75v3.3M395.25 690.75v-3.3M400.06 533.75v3.3M400.06 690.75v-3.3M404.36 533.75v6.3M404.36 690.75v-6.3M432.69 533.75v3.3M432.69 690.75v-3.3M449.26 533.75v3.3M449.26 690.75v-3.3M461.01 533.75v3.3M461.01 690.75v-3.3M470.13 533.75v3.3M470.13 690.75v-3.3M477.58 533.75v3.3M477.58 690.75v-3.3M483.88 533.75v3.3M483.88 690.75v-3.3M489.34 533.75v3.3M489.34 690.75v-3.3M494.15 533.75v3.3M494.15 690.75v-3.3M498.45 533.75v6.3M498.45 690.75v-6.3M526.78 533.75v3.3M526.78 690.75v-3.3M543.35 533.75v3.3M543.35 690.75v-3.3M338.5 681.3h3.3M545.5 681.3h-3.3M338.5 675.77h3.3M545.5 675.77h-3.3M338.5 671.85h3.3M545.5 671.85h-3.3M338.5 668.8h3.3M545.5 668.8h-3.3M338.5 666.32h3.3M545.5 666.32h-3.3M338.5 664.21h3.3M545.5 664.21h-3.3M338.5 662.39h3.3M545.5 662.39h-3.3M338.5 660.79h3.3M545.5 660.79h-3.3M338.5 659.35h6.3M545.5 659.35h-6.3M338.5 649.9h3.3M545.5 649.9h-3.3M338.5 644.37h3.3M545.5 644.37h-3.3M338.5 640.45h3.3M545.5 640.45h-3.3M338.5 637.4h3.3M545.5 637.4h-3.3M338.5 634.92h3.3M545.5 634.92h-3.3M338.5 632.81h3.3M545.5 632.81h-3.3M338.5 630.99h3.3M545.5 630.99h-3.3M338.5 629.39h3.3M545.5 629.39h-3.3M338.5 627.95h6.3M545.5 627.95h-6.3M338.5 618.5h3.3M545.5 618.5h-3.3M338.5 612.97h3.3M545.5 612.97h-3.3M338.5 609.05h3.3M545.5 609.05h-3.3M338.5 606h3.3M545.5 606h-3.3M338.5 603.52h3.3M545.5 603.52h-3.3M338.5 601.41h3.3M545.5 601.41h-3.3M338.5 599.59h3.3M545.5 599.59h-3.3M338.5 597.99h3.3M545.5 597.99h-3.3M338.5 596.55h6.3M545.5 596.55h-6.3M338.5 587.1h3.3M545.5 587.1h-3.3M338.5 581.57h3.3M545.5 581.57h-3.3M338.5 577.65h3.3M545.5 577.65h-3.3M338.5 574.6h3.3M545.5 574.6h-3.3M338.5 572.12h3.3M545.5 572.12h-3.3M338.5 570.01h3.3M545.5 570.01h-3.3M338.5 568.19h3.3M545.5 568.19h-3.3M338.5 566.59h3.3M545.5 566.59h-3.3M338.5 565.15h6.3M545.5 565.15h-6.3M338.5 555.7h3.3M545.5 555.7h-3.3M338.5 550.17h3.3M545.5 550.17h-3.3M338.5 546.25h3.3M545.5 546.25h-3.3M338.5 543.2h3.3M545.5 543.2h-3.3M338.5 540.72h3.3M545.5 540.72h-3.3M338.5 538.61h3.3M545.5 538.61h-3.3M338.5 536.79h3.3M545.5 536.79h-3.3M338.5 535.19h3.3M545.5 535.19h-3.3" fill="none" stroke="#000" stroke-width="1.3"/>
<clipPath id="c7"><rect x="337.85" y="533.1" width="208.3" height="158.3"/></clipPath>
<g clip-path="url(#c7)" fill="none" stroke-linejoin="round">
<path d="M403.91 691.88L404.48 690.19L405.09 688.51L405.72 686.84L406.36 685.17L407.02 683.51L407.7 681.86L408.41 680.22L409.14 678.58L409.89 676.96L410.67 675.34M415.19 659.05L418.94 643.27M421.45 626.98L424.46 610.69M426.96 594.4L427.36 592.64L427.83 590.92L428.37 589.22L428.96 587.55L429.59 585.91L430.26 584.29L431 582.7L431.84 581.14L432.76 579.61L433.73 578.11M444.51 566.33L445.73 565.02L447.02 563.8L448.37 562.72L449.78 561.82L451.25 561.11L452.78 560.48L454.37 559.9L456.03 559.42L457.76 559.04L459.54 558.81M475.46 558.56L477.19 558.93L478.88 559.39L480.53 559.94L482.13 560.55L483.68 561.22L485.2 561.98L486.68 562.86L488.12 563.85L489.51 564.93L490.87 566.08M503.4 576.86L504.74 577.88L506.07 578.93L507.37 580.01L508.65 581.1L509.92 582.22L511.16 583.35L512.39 584.51L513.59 585.69L514.77 586.9L515.93 588.13M527.2 599.41L538.48 611.94" stroke="#00ff00" stroke-width="1.3" stroke-linecap="round"/>
<path d="M336.75 689.33L337.57 688.76L338.39 688.18L339.22 687.6L340.04 687.02L340.87 686.45L341.69 685.87L342.51 685.29L343.34 684.7L344.15 684.12L344.97 683.53L345.77 682.93L346.58 682.32L347.37 681.71L348.15 681.09L348.93 680.45L349.7 679.81L350.47 679.16L351.22 678.5L351.98 677.83L352.73 677.16L353.47 676.48L354.22 675.8L354.96 675.12L355.7 674.44L356.44 673.75L357.17 673.07L357.91 672.39L358.64 671.7L359.37 671L360.1 670.31L360.82 669.61L361.54 668.91L362.26 668.2L362.97 667.49L363.68 666.78L364.39 666.07L365.1 665.35L365.8 664.63L366.5 663.91L367.19 663.18L367.88 662.45L368.57 661.71L369.25 660.98L369.92 660.23L370.59 659.48L371.25 658.72L371.91 657.96L372.57 657.2L373.22 656.43L373.87 655.66L374.52 654.89L375.17 654.13L375.81 653.36L376.46 652.59L377.1 651.82L377.75 651.04L378.39 650.27L379.03 649.49L379.67 648.71L380.31 647.94L380.95 647.17L381.6 646.4L382.26 645.64L382.91 644.87L383.56 644.11L384.22 643.34L384.87 642.58L385.53 641.82L386.2 641.07L386.87 640.32L387.55 639.58L388.23 638.84L388.95 638.13L389.7 637.44L390.45 636.76L391.19 636.06L391.88 635.34L392.5 634.58L393.09 633.77L393.66 632.92L394.18 632.04L394.64 631.14L395 630.22L395.29 629.28L395.53 628.31L395.74 627.32L395.94 626.32L396.12 625.32L396.31 624.33L396.49 623.34L396.65 622.35L396.81 621.35L396.96 620.36L397.12 619.36L397.28 618.37L397.45 617.38L397.64 616.4L397.85 615.41L398.06 614.43L398.29 613.45L398.51 612.47L398.73 611.49L398.95 610.5L399.15 609.52L399.33 608.52L399.48 607.49L399.62 606.45L399.75 605.4L399.88 604.36L400.01 603.33L400.17 602.32L400.34 601.34L400.56 600.4L400.81 599.51L401.12 598.66L401.7 597.7L402.48 596.89L403.29 596.63L404.17 596.9L405.12 597.43L406.02 598.05L406.78 598.66L407.46 599.36L408.1 600.15L408.71 600.98L409.34 601.8L409.99 602.58L410.68 603.41L411.38 604.35L412.09 605.18L412.82 605.7L413.58 605.7L414.42 605.23L415.27 604.47L416.02 603.64L416.6 602.87L417.11 602.06L417.57 601.18L417.99 600.25L418.39 599.29L418.76 598.31L419.11 597.34L419.44 596.38L419.77 595.44L420.08 594.48L420.37 593.52L420.66 592.56L420.93 591.58L421.19 590.61L421.44 589.63L421.69 588.66L421.93 587.68L422.16 586.7L422.38 585.72L422.59 584.74L422.79 583.75L422.99 582.76L423.19 581.78L423.39 580.79L423.6 579.81L423.83 578.83L424.07 577.85L424.3 576.87L424.54 575.89L424.79 574.91L425.06 573.94L425.35 572.98L425.68 572.04L426.03 571.09L426.44 570.13L426.9 569.21L427.43 568.39L428.06 567.67L428.86 567L429.74 566.46L430.63 566.09L431.58 565.78L432.56 565.51L433.57 565.29L434.57 565.12L435.57 565L436.57 564.92L437.58 564.86L438.58 564.81L439.59 564.73L440.58 564.58L441.56 564.33L442.55 564.29L443.56 564.31L444.56 564.34L445.57 564.38L446.58 564.44L447.59 564.5L448.58 564.57L449.58 564.69L450.56 564.88L451.55 565.1L452.53 565.33L453.51 565.57L454.5 565.79L455.48 565.99L456.47 566.19L457.45 566.39L458.44 566.59L459.43 566.79L460.41 566.98L461.4 567.15L462.4 567.31L463.39 567.47L464.38 567.62L465.38 567.77L466.37 567.93L467.36 568.1L468.35 568.28L469.34 568.46L470.33 568.65L471.32 568.85L472.3 569.06L473.28 569.29L474.25 569.53L475.23 569.79L476.2 570.06L477.17 570.35L478.13 570.66L479.07 570.99L480 571.34L480.92 571.73L481.83 572.16L482.73 572.62L483.63 573.09L484.51 573.57L485.4 574.06L486.28 574.55L487.15 575.04L488.01 575.56L488.87 576.08L489.73 576.61L490.59 577.14L491.44 577.66L492.3 578.18L493.18 578.69L494.06 579.19L494.94 579.68L495.81 580.18L496.68 580.7L497.52 581.24L498.34 581.8L499.13 582.4L499.9 583.04L500.66 583.7L501.4 584.39L502.13 585.08L502.86 585.79L503.59 586.49L504.33 587.18L505.07 587.85L505.82 588.53L506.56 589.2L507.31 589.88L508.05 590.56L508.8 591.23L509.54 591.9L510.3 592.57L511.05 593.23L511.82 593.88L512.58 594.53L513.36 595.18L514.13 595.82L514.9 596.46L515.68 597.11L516.45 597.75L517.22 598.4L517.98 599.05L518.74 599.71L519.5 600.37L520.26 601.03L521.02 601.68L521.78 602.34L522.55 603L523.31 603.65L524.09 604.29L524.88 604.92L525.66 605.55L526.44 606.19L527.18 606.87L527.89 607.57L528.57 608.3L529.24 609.05L529.9 609.81L530.55 610.59L531.2 611.36L531.86 612.12L532.52 612.87L533.19 613.62L533.87 614.37L534.54 615.12L535.21 615.87L535.88 616.62L536.54 617.38L537.2 618.14L537.85 618.9L538.49 619.68L539.13 620.46L539.77 621.24L540.4 622.01L541.04 622.79L541.69 623.56L542.35 624.31L543.03 625.05L543.72 625.79L544.41 626.51L545.11 627.24L545.8 627.98L546.48 628.71L547.16 629.46L547.83 630.2L548.51 630.95" stroke="#ff0000" stroke-width="2.8"/>
</g>
<circle cx="396.7" cy="614.87" r="3.05" fill="#0000ff"/>
<circle cx="409.49" cy="596.5" r="3.05" fill="#0000ff"/>
<circle cx="412.28" cy="590.97" r="3.05" fill="#0000ff"/>
<circle cx="419.95" cy="583.11" r="3.05" fill="#0000ff"/>
<circle cx="435.56" cy="556.49" r="3.05" fill="#0000ff"/>
<circle cx="439.55" cy="554.41" r="3.05" fill="#0000ff"/>
<circle cx="441.91" cy="558.78" r="3.05" fill="#0000ff"/>
<circle cx="477.65" cy="562.96" r="3.05" fill="#0000ff"/>
<circle cx="484.52" cy="564.96" r="3.05" fill="#0000ff"/>
<circle cx="498.5" cy="570.97" r="3.05" fill="#0000ff"/>
<text transform="translate(442.1 527.6) scale(1.13 1)" font-family="'Liberation Serif', serif" font-size="13.6" text-anchor="middle" dx="0 1.8 0.8 0 0 0 0 2.3 0" fill="#000" stroke="#000" stroke-width="0.6" stroke-linejoin="round" xml:space="preserve">t=1600 yr</text>
<text transform="translate(442.1 731.7) scale(1.2 1)" font-family="'Liberation Serif', serif" font-size="14.0" text-anchor="middle" fill="#000" stroke="#000" stroke-width="0.6" stroke-linejoin="round" xml:space="preserve">λ(<tspan font-style="italic">μ</tspan>m)</text>
<text transform="translate(294.9 612.2) rotate(-90) scale(1.03 1)" font-family="'Liberation Serif', serif" font-size="14.6" text-anchor="middle" fill="#000" stroke="#000" stroke-width="0.6" stroke-linejoin="round">F<tspan font-size="10.5" dy="3.2">λ</tspan><tspan dy="-3.2">(Jy)</tspan></text>
<text transform="translate(415.7 706.3) scale(1.12 1)" font-family="'Liberation Serif', serif" font-size="13.6" text-anchor="end" fill="#000" stroke="#000" stroke-width="0.6" stroke-linejoin="round" xml:space="preserve">10<tspan font-size="10.8" dy="-6.0">1</tspan></text>
<text transform="translate(509.7 706.3) scale(1.12 1)" font-family="'Liberation Serif', serif" font-size="13.6" text-anchor="end" fill="#000" stroke="#000" stroke-width="0.6" stroke-linejoin="round" xml:space="preserve">10<tspan font-size="10.8" dy="-6.0">2</tspan></text>
<text transform="translate(331.9 695) scale(1.12 1)" font-family="'Liberation Serif', serif" font-size="13.6" text-anchor="end" fill="#000" stroke="#000" stroke-width="0.6" stroke-linejoin="round" xml:space="preserve">10<tspan font-size="10.8" dy="-6.0">−2</tspan></text>
<text transform="translate(331.9 663.6) scale(1.12 1)" font-family="'Liberation Serif', serif" font-size="13.6" text-anchor="end" fill="#000" stroke="#000" stroke-width="0.6" stroke-linejoin="round" xml:space="preserve">10<tspan font-size="10.8" dy="-6.0">−1</tspan></text>
<text transform="translate(328.4 632.2) scale(1.12 1)" font-family="'Liberation Serif', serif" font-size="13.6" text-anchor="end" fill="#000" stroke="#000" stroke-width="0.6" stroke-linejoin="round" xml:space="preserve">1</text>
<text transform="translate(331.4 600.8) scale(1.12 1)" font-family="'Liberation Serif', serif" font-size="13.6" text-anchor="end" fill="#000" stroke="#000" stroke-width="0.6" stroke-linejoin="round" xml:space="preserve">10<tspan font-size="10.8" dy="-6.0">1</tspan></text>
<text transform="translate(331.4 569.4) scale(1.12 1)" font-family="'Liberation Serif', serif" font-size="13.6" text-anchor="end" fill="#000" stroke="#000" stroke-width="0.6" stroke-linejoin="round" xml:space="preserve">10<tspan font-size="10.8" dy="-6.0">2</tspan></text>
<text transform="translate(331.4 538) scale(1.12 1)" font-family="'Liberation Serif', serif" font-size="13.6" text-anchor="end" fill="#000" stroke="#000" stroke-width="0.6" stroke-linejoin="round" xml:space="preserve">10<tspan font-size="10.8" dy="-6.0">3</tspan></text>
</g>
<g>
<rect x="621.5" y="533.75" width="207" height="157" fill="none" stroke="#000" stroke-width="1.3"/>
<path d="M638.17 533.75v3.3M638.17 690.75v-3.3M649.92 533.75v3.3M649.92 690.75v-3.3M659.04 533.75v3.3M659.04 690.75v-3.3M666.49 533.75v3.3M666.49 690.75v-3.3M672.79 533.75v3.3M672.79 690.75v-3.3M678.25 533.75v3.3M678.25 690.75v-3.3M683.06 533.75v3.3M683.06 690.75v-3.3M687.36 533.75v6.3M687.36 690.75v-6.3M715.69 533.75v3.3M715.69 690.75v-3.3M732.26 533.75v3.3M732.26 690.75v-3.3M744.01 533.75v3.3M744.01 690.75v-3.3M753.13 533.75v3.3M753.13 690.75v-3.3M760.58 533.75v3.3M760.58 690.75v-3.3M766.88 533.75v3.3M766.88 690.75v-3.3M772.34 533.75v3.3M772.34 690.75v-3.3M777.15 533.75v3.3M777.15 690.75v-3.3M781.45 533.75v6.3M781.45 690.75v-6.3M809.78 533.75v3.3M809.78 690.75v-3.3M826.35 533.75v3.3M826.35 690.75v-3.3M621.5 681.3h3.3M828.5 681.3h-3.3M621.5 675.77h3.3M828.5 675.77h-3.3M621.5 671.85h3.3M828.5 671.85h-3.3M621.5 668.8h3.3M828.5 668.8h-3.3M621.5 666.32h3.3M828.5 666.32h-3.3M621.5 664.21h3.3M828.5 664.21h-3.3M621.5 662.39h3.3M828.5 662.39h-3.3M621.5 660.79h3.3M828.5 660.79h-3.3M621.5 659.35h6.3M828.5 659.35h-6.3M621.5 649.9h3.3M828.5 649.9h-3.3M621.5 644.37h3.3M828.5 644.37h-3.3M621.5 640.45h3.3M828.5 640.45h-3.3M621.5 637.4h3.3M828.5 637.4h-3.3M621.5 634.92h3.3M828.5 634.92h-3.3M621.5 632.81h3.3M828.5 632.81h-3.3M621.5 630.99h3.3M828.5 630.99h-3.3M621.5 629.39h3.3M828.5 629.39h-3.3M621.5 627.95h6.3M828.5 627.95h-6.3M621.5 618.5h3.3M828.5 618.5h-3.3M621.5 612.97h3.3M828.5 612.97h-3.3M621.5 609.05h3.3M828.5 609.05h-3.3M621.5 606h3.3M828.5 606h-3.3M621.5 603.52h3.3M828.5 603.52h-3.3M621.5 601.41h3.3M828.5 601.41h-3.3M621.5 599.59h3.3M828.5 599.59h-3.3M621.5 597.99h3.3M828.5 597.99h-3.3M621.5 596.55h6.3M828.5 596.55h-6.3M621.5 587.1h3.3M828.5 587.1h-3.3M621.5 581.57h3.3M828.5 581.57h-3.3M621.5 577.65h3.3M828.5 577.65h-3.3M621.5 574.6h3.3M828.5 574.6h-3.3M621.5 572.12h3.3M828.5 572.12h-3.3M621.5 570.01h3.3M828.5 570.01h-3.3M621.5 568.19h3.3M828.5 568.19h-3.3M621.5 566.59h3.3M828.5 566.59h-3.3M621.5 565.15h6.3M828.5 565.15h-6.3M621.5 555.7h3.3M828.5 555.7h-3.3M621.5 550.17h3.3M828.5 550.17h-3.3M621.5 546.25h3.3M828.5 546.25h-3.3M621.5 543.2h3.3M828.5 543.2h-3.3M621.5 540.72h3.3M828.5 540.72h-3.3M621.5 538.61h3.3M828.5 538.61h-3.3M621.5 536.79h3.3M828.5 536.79h-3.3M621.5 535.19h3.3M828.5 535.19h-3.3" fill="none" stroke="#000" stroke-width="1.3"/>
<clipPath id="c8"><rect x="620.85" y="533.1" width="208.3" height="158.3"/></clipPath>
<g clip-path="url(#c8)" fill="none" stroke-linejoin="round">
<path d="M688.16 691.88L688.72 690.21L689.3 688.55L689.88 686.89L690.47 685.23L691.06 683.57L691.66 681.92L692.28 680.27L692.9 678.62L693.53 676.98L694.18 675.34M699.19 659.05L703.2 642.76M705.45 626.47L708.71 610.19M711.72 593.9L712.11 592.16L712.53 590.43L712.98 588.71L713.45 586.99L713.94 585.29L714.45 583.58L714.97 581.89L715.52 580.2L716.11 578.52L716.73 576.86M722.49 573.1L723.62 571.7L724.81 570.41L726.08 569.23L727.4 568.2L728.78 567.32L730.23 566.56L731.76 565.85L733.36 565.23L735.04 564.72L736.78 564.33M753.07 561.32L754.82 561.45L756.56 561.67L758.27 561.96L759.96 562.29L761.63 562.7L763.28 563.22L764.91 563.84L766.52 564.55L768.1 565.33M782.64 576.1L783.97 577.17L785.29 578.25L786.59 579.35L787.87 580.48L789.13 581.62L790.38 582.78L791.6 583.96L792.81 585.16L794 586.39L795.17 587.63M806.45 598.66L818.47 611.19" stroke="#00ff00" stroke-width="1.3" stroke-linecap="round"/>
<path d="M620.37 692.72L621.1 692.02L621.82 691.33L622.55 690.64L623.29 689.96L624.04 689.28L624.79 688.61L625.54 687.95L626.29 687.29L627.05 686.63L627.81 685.97L628.57 685.31L629.33 684.65L630.09 684L630.85 683.34L631.6 682.67L632.35 682.01L633.1 681.33L633.84 680.66L634.58 679.98L635.32 679.3L636.06 678.62L636.8 677.94L637.54 677.26L638.28 676.57L639.01 675.89L639.74 675.2L640.48 674.51L641.2 673.82L641.93 673.12L642.65 672.42L643.37 671.72L644.09 671.02L644.8 670.31L645.51 669.6L646.21 668.89L646.9 668.16L647.6 667.44L648.28 666.71L648.96 665.97L649.64 665.23L650.31 664.48L650.99 663.74L651.66 662.99L652.32 662.24L652.99 661.48L653.66 660.73L654.32 659.98L654.99 659.23L655.66 658.48L656.33 657.73L657 656.98L657.68 656.24L658.36 655.5L659.05 654.76L659.73 654.03L660.42 653.3L661.1 652.56L661.79 651.83L662.48 651.1L663.17 650.37L663.86 649.64L664.55 648.91L665.24 648.18L665.94 647.46L666.63 646.73L667.33 646.01L668.02 645.28L668.72 644.56L669.42 643.84L670.12 643.12L670.82 642.4L671.54 641.69L672.3 641L673.07 640.32L673.84 639.64L674.55 638.93L675.18 638.18L675.7 637.38L676.17 636.51L676.6 635.58L676.97 634.62L677.29 633.66L677.55 632.7L677.79 631.73L678 630.75L678.2 629.76L678.37 628.76L678.53 627.77L678.68 626.77L678.81 625.78L678.93 624.78L679.05 623.78L679.15 622.78L679.25 621.78L679.36 620.78L679.46 619.78L679.58 618.79L679.7 617.79L679.84 616.79L679.97 615.8L680.11 614.8L680.25 613.81L680.4 612.82L680.54 611.82L680.69 610.83L680.85 609.84L681 608.84L681.15 607.85L681.3 606.85L681.45 605.86L681.62 604.87L681.79 603.88L681.97 602.89L682.17 601.91L682.38 600.93L682.61 599.94L682.85 598.96L683.13 597.99L683.42 597.04L683.75 596.08L684.12 594.94L684.54 593.79L685.03 592.91L685.6 592.62L686.42 592.85L687.42 593.34L688.38 593.92L689.13 594.5L689.81 595.2L690.43 596L691.02 596.84L691.6 597.71L692.19 598.56L692.78 599.39L693.32 600.28L693.86 601.19L694.42 602.05L695.03 602.8L695.74 603.4L696.67 603.94L697.58 604.13L698.43 603.72L699.23 602.93L699.89 602.08L700.4 601.3L700.87 600.44L701.29 599.53L701.67 598.57L702.03 597.59L702.35 596.61L702.66 595.63L702.96 594.68L703.23 593.71L703.48 592.75L703.72 591.77L703.95 590.79L704.17 589.81L704.38 588.82L704.6 587.84L704.83 586.86L705.07 585.88L705.3 584.9L705.52 583.92L705.75 582.94L705.98 581.96L706.21 580.99L706.45 580.01L706.69 579.04L706.95 578.07L707.21 577.1L707.48 576.11L707.74 575.13L708.02 574.14L708.33 573.18L708.67 572.25L709.06 571.36L709.55 570.47L710.15 569.6L710.84 568.86L711.61 568.34L712.62 568L713.64 567.69L714.42 567.24L714.99 566.46L715.44 565.48L715.77 564.46L716.02 563.18L716.22 562.16L716.42 561.97L716.56 562.66L716.69 563.84L716.85 565.15L717.08 566.23L717.62 567.05L718.48 567.7L719.36 567.97L720.33 568.15L721.36 568.28L722.4 568.38L723.42 568.45L724.42 568.5L725.41 568.58L726.39 568.75L727.36 569L728.33 569.3L729.29 569.63L730.25 569.96L731.21 570.27L732.17 570.57L733.13 570.88L734.08 571.2L735.03 571.52L735.99 571.83L736.95 572.13L737.91 572.4L738.88 572.66L739.85 572.92L740.83 573.16L741.81 573.39L742.79 573.6L743.78 573.79L744.76 573.95L745.76 574.09L746.76 574.22L747.76 574.34L748.75 574.47L749.75 574.62L750.73 574.79L751.72 574.98L752.7 575.19L753.68 575.41L754.66 575.64L755.64 575.88L756.61 576.12L757.59 576.36L758.58 576.6L759.56 576.86L760.53 577.13L761.48 577.42L762.42 577.74L763.34 578.11L764.23 578.55L765.11 579.03L765.98 579.55L766.84 580.08L767.7 580.62L768.57 581.14L769.44 581.65L770.3 582.16L771.16 582.68L772.02 583.2L772.88 583.72L773.74 584.24L774.6 584.76L775.46 585.27L776.33 585.78L777.21 586.27L778.09 586.77L778.97 587.27L779.83 587.79L780.67 588.33L781.48 588.9L782.27 589.51L783.03 590.15L783.78 590.82L784.51 591.51L785.24 592.21L785.97 592.91L786.7 593.61L787.45 594.29L788.2 594.95L788.96 595.62L789.71 596.28L790.47 596.93L791.23 597.59L792 598.24L792.76 598.89L793.53 599.54L794.3 600.18L795.08 600.81L795.87 601.44L796.66 602.06L797.45 602.68L798.23 603.31L799.02 603.93L799.8 604.56L800.58 605.2L801.35 605.85L802.11 606.5L802.87 607.15L803.63 607.81L804.4 608.46L805.17 609.11L805.95 609.74L806.74 610.36L807.57 610.94L808.4 611.51L809.23 612.09L810 612.71L810.72 613.39L811.4 614.11L812.04 614.88L812.67 615.67L813.29 616.47L813.91 617.28L814.53 618.07L815.17 618.85L815.83 619.61L816.49 620.37L817.16 621.12L817.83 621.86L818.5 622.61L819.17 623.36L819.84 624.11L820.51 624.86L821.17 625.61L821.83 626.37L822.49 627.13L823.16 627.88L823.82 628.64L824.5 629.38L825.18 630.12L825.88 630.84L826.59 631.55L827.3 632.25L828.02 632.96L828.73 633.67L829.43 634.39L830.13 635.11L830.82 635.84L831.51 636.57" stroke="#ff0000" stroke-width="2.8"/>
</g>
<circle cx="679.7" cy="614.87" r="3.05" fill="#0000ff"/>
<circle cx="692.49" cy="596.5" r="3.05" fill="#0000ff"/>
<circle cx="695.28" cy="590.97" r="3.05" fill="#0000ff"/>
<circle cx="702.95" cy="583.11" r="3.05" fill="#0000ff"/>
<circle cx="718.56" cy="556.49" r="3.05" fill="#0000ff"/>
<circle cx="722.55" cy="554.41" r="3.05" fill="#0000ff"/>
<circle cx="724.91" cy="558.78" r="3.05" fill="#0000ff"/>
<circle cx="760.65" cy="562.96" r="3.05" fill="#0000ff"/>
<circle cx="767.52" cy="564.96" r="3.05" fill="#0000ff"/>
<circle cx="781.5" cy="570.97" r="3.05" fill="#0000ff"/>
<text transform="translate(725.1 527.6) scale(1.13 1)" font-family="'Liberation Serif', serif" font-size="13.6" text-anchor="middle" dx="0 1.8 0.8 0 0 0 0 2.3 0" fill="#000" stroke="#000" stroke-width="0.6" stroke-linejoin="round" xml:space="preserve">t=1800 yr</text>
<text transform="translate(725.1 731.7) scale(1.2 1)" font-family="'Liberation Serif', serif" font-size="14.0" text-anchor="middle" fill="#000" stroke="#000" stroke-width="0.6" stroke-linejoin="round" xml:space="preserve">λ(<tspan font-style="italic">μ</tspan>m)</text>
<text transform="translate(577.9 612.2) rotate(-90) scale(1.03 1)" font-family="'Liberation Serif', serif" font-size="14.6" text-anchor="middle" fill="#000" stroke="#000" stroke-width="0.6" stroke-linejoin="round">F<tspan font-size="10.5" dy="3.2">λ</tspan><tspan dy="-3.2">(Jy)</tspan></text>
<text transform="translate(698.7 706.3) scale(1.12 1)" font-family="'Liberation Serif', serif" font-size="13.6" text-anchor="end" fill="#000" stroke="#000" stroke-width="0.6" stroke-linejoin="round" xml:space="preserve">10<tspan font-size="10.8" dy="-6.0">1</tspan></text>
<text transform="translate(792.7 706.3) scale(1.12 1)" font-family="'Liberation Serif', serif" font-size="13.6" text-anchor="end" fill="#000" stroke="#000" stroke-width="0.6" stroke-linejoin="round" xml:space="preserve">10<tspan font-size="10.8" dy="-6.0">2</tspan></text>
<text transform="translate(614.9 695) scale(1.12 1)" font-family="'Liberation Serif', serif" font-size="13.6" text-anchor="end" fill="#000" stroke="#000" stroke-width="0.6" stroke-linejoin="round" xml:space="preserve">10<tspan font-size="10.8" dy="-6.0">−2</tspan></text>
<text transform="translate(614.9 663.6) scale(1.12 1)" font-family="'Liberation Serif', serif" font-size="13.6" text-anchor="end" fill="#000" stroke="#000" stroke-width="0.6" stroke-linejoin="round" xml:space="preserve">10<tspan font-size="10.8" dy="-6.0">−1</tspan></text>
<text transform="translate(611.4 632.2) scale(1.12 1)" font-family="'Liberation Serif', serif" font-size="13.6" text-anchor="end" fill="#000" stroke="#000" stroke-width="0.6" stroke-linejoin="round" xml:space="preserve">1</text>
<text transform="translate(614.4 600.8) scale(1.12 1)" font-family="'Liberation Serif', serif" font-size="13.6" text-anchor="end" fill="#000" stroke="#000" stroke-width="0.6" stroke-linejoin="round" xml:space="preserve">10<tspan font-size="10.8" dy="-6.0">1</tspan></text>
<text transform="translate(614.4 569.4) scale(1.12 1)" font-family="'Liberation Serif', serif" font-size="13.6" text-anchor="end" fill="#000" stroke="#000" stroke-width="0.6" stroke-linejoin="round" xml:space="preserve">10<tspan font-size="10.8" dy="-6.0">2</tspan></text>
<text transform="translate(614.4 538) scale(1.12 1)" font-family="'Liberation Serif', serif" font-size="13.6" text-anchor="end" fill="#000" stroke="#000" stroke-width="0.6" stroke-linejoin="round" xml:space="preserve">10<tspan font-size="10.8" dy="-6.0">3</tspan></text>
</g>
</svg>
</body></html>
